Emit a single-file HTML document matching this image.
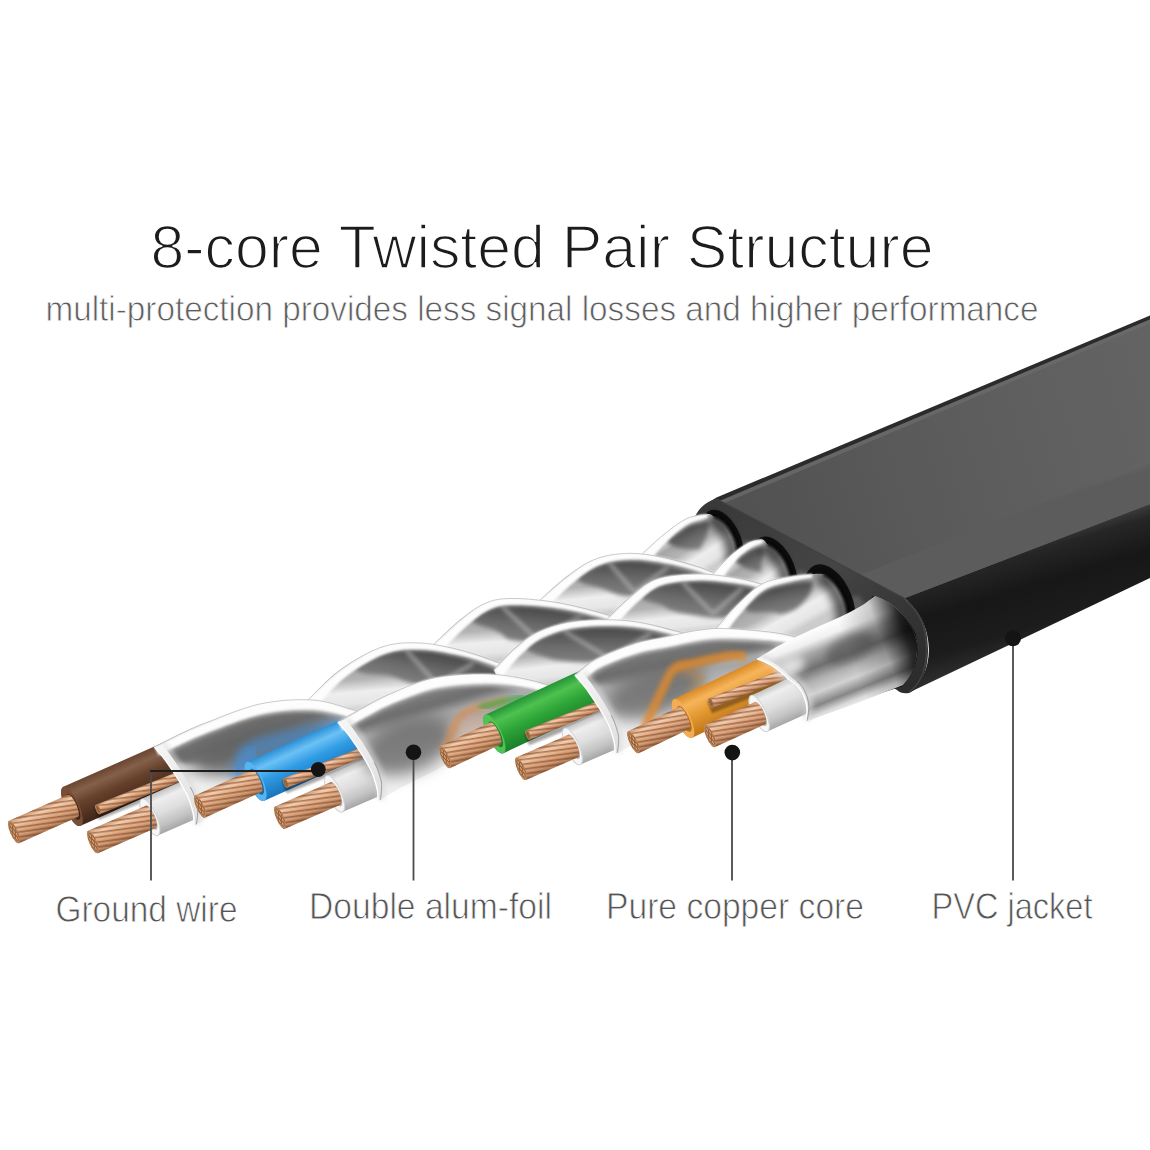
<!DOCTYPE html>
<html lang="en"><head><meta charset="utf-8"><title>8-core Twisted Pair Structure</title>
<style>html,body{margin:0;padding:0;background:#fff}body{width:1150px;height:1150px;overflow:hidden}svg{display:block}text{font-family:"Liberation Sans",sans-serif}</style></head>
<body>
<svg width="1150" height="1150" viewBox="0 0 1150 1150">
<defs>
<linearGradient id="gCu" x1="0" y1="0" x2="0" y2="1"><stop offset="0" stop-color="#c48a62"/><stop offset="0.2" stop-color="#f0c8a8"/><stop offset="0.45" stop-color="#dfa67e"/><stop offset="0.75" stop-color="#c58b63"/><stop offset="1" stop-color="#9a6642"/></linearGradient>
<linearGradient id="gBrown" x1="0" y1="0" x2="0" y2="1"><stop offset="0" stop-color="#6a4531"/><stop offset="0.22" stop-color="#84604a"/><stop offset="0.5" stop-color="#66402b"/><stop offset="1" stop-color="#40261a"/></linearGradient>
<linearGradient id="gBlue" x1="0" y1="0" x2="0" y2="1"><stop offset="0" stop-color="#2a8fd6"/><stop offset="0.25" stop-color="#6cc1f5"/><stop offset="0.55" stop-color="#2f9ce4"/><stop offset="1" stop-color="#1a74ba"/></linearGradient>
<linearGradient id="gGreen" x1="0" y1="0" x2="0" y2="1"><stop offset="0" stop-color="#249436"/><stop offset="0.25" stop-color="#4ec250"/><stop offset="0.55" stop-color="#2ea638"/><stop offset="1" stop-color="#1a7f2a"/></linearGradient>
<linearGradient id="gOrange" x1="0" y1="0" x2="0" y2="1"><stop offset="0" stop-color="#d98a24"/><stop offset="0.25" stop-color="#f6b55c"/><stop offset="0.55" stop-color="#e59a32"/><stop offset="1" stop-color="#bf7618"/></linearGradient>
<linearGradient id="gWhite" x1="0" y1="0" x2="0" y2="1"><stop offset="0" stop-color="#c4c4c4"/><stop offset="0.18" stop-color="#eeeeee"/><stop offset="0.5" stop-color="#dedede"/><stop offset="0.8" stop-color="#c2c2c2"/><stop offset="1" stop-color="#a6a6a6"/></linearGradient>
<pattern id="strand" width="9" height="4.8" patternUnits="userSpaceOnUse" patternTransform="rotate(16)"><rect width="9" height="1.5" fill="#80492a" fill-opacity=".6"/><rect y="2.1" width="9" height="1.2" fill="#fff0e0" fill-opacity=".25"/></pattern>
<filter id="b1" x="-20%" y="-20%" width="140%" height="140%"><feGaussianBlur stdDeviation="1"/></filter>
<filter id="b2" x="-20%" y="-20%" width="140%" height="140%"><feGaussianBlur stdDeviation="2.2"/></filter>
<filter id="b4" x="-30%" y="-30%" width="160%" height="160%"><feGaussianBlur stdDeviation="4.5"/></filter>
<filter id="b8" x="-40%" y="-40%" width="180%" height="180%"><feGaussianBlur stdDeviation="8"/></filter>
<linearGradient id="gSide" gradientUnits="userSpaceOnUse" x1="1000" y1="543" x2="1032" y2="650"><stop offset="0" stop-color="#555555"/><stop offset="0.07" stop-color="#383838"/><stop offset="0.16" stop-color="#262626"/><stop offset="0.45" stop-color="#171717"/><stop offset="0.8" stop-color="#1c1c1c"/><stop offset="1" stop-color="#2c2c2c"/></linearGradient>
<linearGradient id="gTop" gradientUnits="userSpaceOnUse" x1="760" y1="520" x2="1150" y2="400"><stop offset="0" stop-color="#525252"/><stop offset="0.5" stop-color="#5c5c5c"/><stop offset="1" stop-color="#636363"/></linearGradient>
<linearGradient id="gTop2" gradientUnits="userSpaceOnUse" x1="1000" y1="462" x2="1016" y2="512"><stop offset="0" stop-color="#6a6a6a" stop-opacity="0"/><stop offset="0.75" stop-color="#6a6a6a" stop-opacity="0.8"/><stop offset="1" stop-color="#5c5c5c" stop-opacity="1"/></linearGradient>
<linearGradient id="gEnd" gradientUnits="userSpaceOnUse" x1="700" y1="500" x2="920" y2="690"><stop offset="0" stop-color="#383838"/><stop offset="0.5" stop-color="#454545"/><stop offset="1" stop-color="#2a2a2a"/></linearGradient>
<linearGradient id="gl1" gradientUnits="userSpaceOnUse" x1="686" y1="519" x2="715.2" y2="565.6"><stop offset="0" stop-color="#ffffff"/><stop offset="0.12" stop-color="#e0e0e0"/><stop offset="0.3" stop-color="#a6a6a6"/><stop offset="0.5" stop-color="#b4b4b4"/><stop offset="0.7" stop-color="#eeeeee"/><stop offset="0.88" stop-color="#e6e6e6"/><stop offset="1" stop-color="#cccccc"/></linearGradient>
<linearGradient id="gl1p" gradientUnits="userSpaceOnUse" x1="689" y1="525.3" x2="700.3" y2="548.7"><stop offset="0" stop-color="#464646"/><stop offset="0.55" stop-color="#6c6c6c"/><stop offset="1" stop-color="#808080"/></linearGradient>
<linearGradient id="gl2" gradientUnits="userSpaceOnUse" x1="618" y1="554" x2="624.1" y2="611.7"><stop offset="0" stop-color="#ffffff"/><stop offset="0.12" stop-color="#e0e0e0"/><stop offset="0.3" stop-color="#a6a6a6"/><stop offset="0.5" stop-color="#b4b4b4"/><stop offset="0.7" stop-color="#eeeeee"/><stop offset="0.88" stop-color="#e6e6e6"/><stop offset="1" stop-color="#cccccc"/></linearGradient>
<linearGradient id="gl2p" gradientUnits="userSpaceOnUse" x1="632.6" y1="560.4" x2="631.8" y2="596.4"><stop offset="0" stop-color="#464646"/><stop offset="0.55" stop-color="#6c6c6c"/><stop offset="1" stop-color="#808080"/></linearGradient>
<linearGradient id="gl3" gradientUnits="userSpaceOnUse" x1="513" y1="598.5" x2="517.4" y2="658.3"><stop offset="0" stop-color="#ffffff"/><stop offset="0.12" stop-color="#e0e0e0"/><stop offset="0.3" stop-color="#a6a6a6"/><stop offset="0.5" stop-color="#b4b4b4"/><stop offset="0.7" stop-color="#eeeeee"/><stop offset="0.88" stop-color="#e6e6e6"/><stop offset="1" stop-color="#cccccc"/></linearGradient>
<linearGradient id="gl3p" gradientUnits="userSpaceOnUse" x1="534.3" y1="606.6" x2="530.9" y2="642.5"><stop offset="0" stop-color="#464646"/><stop offset="0.55" stop-color="#6c6c6c"/><stop offset="1" stop-color="#808080"/></linearGradient>
<linearGradient id="gl4" gradientUnits="userSpaceOnUse" x1="420" y1="643" x2="425.3" y2="704.8"><stop offset="0" stop-color="#ffffff"/><stop offset="0.12" stop-color="#e0e0e0"/><stop offset="0.3" stop-color="#a6a6a6"/><stop offset="0.5" stop-color="#b4b4b4"/><stop offset="0.7" stop-color="#eeeeee"/><stop offset="0.88" stop-color="#e6e6e6"/><stop offset="1" stop-color="#cccccc"/></linearGradient>
<linearGradient id="gl4p" gradientUnits="userSpaceOnUse" x1="438.8" y1="652.4" x2="432" y2="687.7"><stop offset="0" stop-color="#464646"/><stop offset="0.55" stop-color="#6c6c6c"/><stop offset="1" stop-color="#808080"/></linearGradient>
<linearGradient id="gl5" gradientUnits="userSpaceOnUse" x1="260" y1="704" x2="266.7" y2="778.7"><stop offset="0" stop-color="#ffffff"/><stop offset="0.1" stop-color="#ececec"/><stop offset="0.25" stop-color="#b2b2b2"/><stop offset="0.5" stop-color="#a6a6a6"/><stop offset="0.75" stop-color="#c8c8c8"/><stop offset="0.92" stop-color="#e8e8e8"/><stop offset="1" stop-color="#f0f0f0"/></linearGradient>
<linearGradient id="gl5p" gradientUnits="userSpaceOnUse" x1="250" y1="719.1" x2="259.7" y2="749.6"><stop offset="0" stop-color="#707070"/><stop offset="0.55" stop-color="#6c6c6c"/><stop offset="1" stop-color="#9c9c9c"/></linearGradient>
<linearGradient id="gb1" gradientUnits="userSpaceOnUse" x1="154.5" y1="747" x2="194" y2="825.5"><stop offset="0" stop-color="#f6f6f6"/><stop offset="0.5" stop-color="#e9e9e9"/><stop offset="1" stop-color="#dedede"/></linearGradient>
<linearGradient id="gl6" gradientUnits="userSpaceOnUse" x1="748.7" y1="542.6" x2="780.5" y2="587.4"><stop offset="0" stop-color="#ffffff"/><stop offset="0.12" stop-color="#e0e0e0"/><stop offset="0.3" stop-color="#a6a6a6"/><stop offset="0.5" stop-color="#b4b4b4"/><stop offset="0.7" stop-color="#eeeeee"/><stop offset="0.88" stop-color="#e6e6e6"/><stop offset="1" stop-color="#cccccc"/></linearGradient>
<linearGradient id="gl6p" gradientUnits="userSpaceOnUse" x1="751.9" y1="548.9" x2="763.6" y2="572.1"><stop offset="0" stop-color="#464646"/><stop offset="0.55" stop-color="#6c6c6c"/><stop offset="1" stop-color="#808080"/></linearGradient>
<linearGradient id="gl7" gradientUnits="userSpaceOnUse" x1="696" y1="574" x2="702.5" y2="631.6"><stop offset="0" stop-color="#ffffff"/><stop offset="0.12" stop-color="#e0e0e0"/><stop offset="0.3" stop-color="#a6a6a6"/><stop offset="0.5" stop-color="#b4b4b4"/><stop offset="0.7" stop-color="#eeeeee"/><stop offset="0.88" stop-color="#e6e6e6"/><stop offset="1" stop-color="#cccccc"/></linearGradient>
<linearGradient id="gl7p" gradientUnits="userSpaceOnUse" x1="712.7" y1="581.7" x2="709" y2="617.5"><stop offset="0" stop-color="#464646"/><stop offset="0.55" stop-color="#6c6c6c"/><stop offset="1" stop-color="#808080"/></linearGradient>
<linearGradient id="gl8" gradientUnits="userSpaceOnUse" x1="578" y1="621" x2="584.6" y2="680.6"><stop offset="0" stop-color="#ffffff"/><stop offset="0.12" stop-color="#e0e0e0"/><stop offset="0.3" stop-color="#a6a6a6"/><stop offset="0.5" stop-color="#b4b4b4"/><stop offset="0.7" stop-color="#eeeeee"/><stop offset="0.88" stop-color="#e6e6e6"/><stop offset="1" stop-color="#cccccc"/></linearGradient>
<linearGradient id="gl8p" gradientUnits="userSpaceOnUse" x1="603.3" y1="626.7" x2="603.3" y2="662.7"><stop offset="0" stop-color="#464646"/><stop offset="0.55" stop-color="#6c6c6c"/><stop offset="1" stop-color="#808080"/></linearGradient>
<linearGradient id="gl9" gradientUnits="userSpaceOnUse" x1="434" y1="678" x2="444" y2="755.4"><stop offset="0" stop-color="#ffffff"/><stop offset="0.1" stop-color="#ececec"/><stop offset="0.25" stop-color="#b2b2b2"/><stop offset="0.5" stop-color="#a6a6a6"/><stop offset="0.75" stop-color="#c8c8c8"/><stop offset="0.92" stop-color="#e8e8e8"/><stop offset="1" stop-color="#f0f0f0"/></linearGradient>
<linearGradient id="gl9p" gradientUnits="userSpaceOnUse" x1="429.4" y1="691.5" x2="436.5" y2="716.5"><stop offset="0" stop-color="#808080"/><stop offset="0.55" stop-color="#6c6c6c"/><stop offset="1" stop-color="#acacac"/></linearGradient>
<linearGradient id="gb2" gradientUnits="userSpaceOnUse" x1="338" y1="722" x2="378" y2="801"><stop offset="0" stop-color="#f6f6f6"/><stop offset="0.5" stop-color="#e9e9e9"/><stop offset="1" stop-color="#dedede"/></linearGradient>
<linearGradient id="gl10" gradientUnits="userSpaceOnUse" x1="762" y1="584" x2="790.4" y2="634.6"><stop offset="0" stop-color="#ffffff"/><stop offset="0.12" stop-color="#e0e0e0"/><stop offset="0.3" stop-color="#a6a6a6"/><stop offset="0.5" stop-color="#b4b4b4"/><stop offset="0.7" stop-color="#eeeeee"/><stop offset="0.88" stop-color="#e6e6e6"/><stop offset="1" stop-color="#cccccc"/></linearGradient>
<linearGradient id="gl10p" gradientUnits="userSpaceOnUse" x1="777.7" y1="586" x2="783.8" y2="613.3"><stop offset="0" stop-color="#464646"/><stop offset="0.55" stop-color="#6c6c6c"/><stop offset="1" stop-color="#808080"/></linearGradient>
<linearGradient id="gl11" gradientUnits="userSpaceOnUse" x1="700" y1="630" x2="709.7" y2="709.4"><stop offset="0" stop-color="#ffffff"/><stop offset="0.1" stop-color="#ececec"/><stop offset="0.25" stop-color="#b2b2b2"/><stop offset="0.5" stop-color="#a6a6a6"/><stop offset="0.75" stop-color="#c8c8c8"/><stop offset="0.92" stop-color="#e8e8e8"/><stop offset="1" stop-color="#f0f0f0"/></linearGradient>
<linearGradient id="gl11p" gradientUnits="userSpaceOnUse" x1="667.4" y1="648.8" x2="673.1" y2="676.2"><stop offset="0" stop-color="#787878"/><stop offset="0.55" stop-color="#6c6c6c"/><stop offset="1" stop-color="#a8a8a8"/></linearGradient>
<linearGradient id="gb3" gradientUnits="userSpaceOnUse" x1="575" y1="675" x2="615" y2="754"><stop offset="0" stop-color="#f6f6f6"/><stop offset="0.5" stop-color="#e9e9e9"/><stop offset="1" stop-color="#dedede"/></linearGradient>
<linearGradient id="gP4" gradientUnits="userSpaceOnUse" x1="806" y1="632" x2="838" y2="712"><stop offset="0" stop-color="#ffffff"/><stop offset="0.13" stop-color="#f0f0f0"/><stop offset="0.25" stop-color="#a8a8a8"/><stop offset="0.42" stop-color="#707070"/><stop offset="0.56" stop-color="#b0b0b0"/><stop offset="0.7" stop-color="#d2d2d2"/><stop offset="0.84" stop-color="#868686"/><stop offset="0.94" stop-color="#d8d8d8"/><stop offset="1" stop-color="#eeeeee"/></linearGradient>
<linearGradient id="gP4s" gradientUnits="userSpaceOnUse" x1="850" y1="655" x2="915" y2="632"><stop offset="0" stop-color="#000" stop-opacity="0"/><stop offset="0.5" stop-color="#000" stop-opacity="0.2"/><stop offset="0.85" stop-color="#000" stop-opacity="0.8"/><stop offset="1" stop-color="#000" stop-opacity="0.9"/></linearGradient>
<linearGradient id="gb4" gradientUnits="userSpaceOnUse" x1="757" y1="658.8" x2="806" y2="721.4"><stop offset="0" stop-color="#f6f6f6"/><stop offset="0.5" stop-color="#e9e9e9"/><stop offset="1" stop-color="#dedede"/></linearGradient>
</defs>
<rect width="1150" height="1150" fill="#fff"/>
<path d="M904,598 L1150,503 L1150,578 L908,693 C935,676 938,625 904,598 Z" fill="url(#gSide)"/><path d="M716.5,499 L1150,317 L1150,504 L904.4,598.3 Z" fill="url(#gTop)"/><path d="M860,575 L1150,460 L1150,504 L904.4,598.3 Z" fill="url(#gTop2)"/><path d="M710,501.5 L716.5,497.5 L1150,315.5 L1150,319.5 L719.5,501 Z" fill="#2b2b2b"/><path d="M719.5,501 L1150,319.5 L1150,323.5 L724,503.2 Z" fill="#6a6a6a" fill-opacity=".8"/><path d="M716.5,499 L904.4,598.3 C920,611 928,625 928,650 C928,672 920,688 909.6,692.7 C905,694 900,693 897,690 L700,575 C690,555 690,522 697,512.9 C702,505 710,500 716.5,499 Z" fill="url(#gEnd)"/><path d="M716.5,499 L904.4,598.3" stroke="#404040" stroke-width="1.4" fill="none"/><path d="M906,601 C920,612 926.5,627 926.5,650 C926.5,670 919,686 909,691.5" fill="none" stroke="#4c4c4c" stroke-width="1.4" stroke-opacity=".7"/><ellipse cx="748" cy="552" rx="7" ry="12" transform="rotate(-20 748 552)" fill="#666" fill-opacity=".7" filter="url(#b2)"/><ellipse cx="803" cy="582" rx="7" ry="12" transform="rotate(-20 803 582)" fill="#666" fill-opacity=".7" filter="url(#b2)"/><ellipse cx="858" cy="607" rx="7" ry="12" transform="rotate(-20 858 607)" fill="#666" fill-opacity=".7" filter="url(#b2)"/><circle r="1" transform="matrix(22,12,0,31,722,543)" fill="#0d0d0d"/><circle r="1" transform="matrix(24,13,0,33,774,572)" fill="#0d0d0d"/><circle r="1" transform="matrix(26,14,0,35.5,829.5,602.5)" fill="#0d0d0d"/><path d="M873,595.7 C889,600 905,613 914.8,632 C920,648 919,668 903,686 L860,700 L840,640 Z" fill="#0d0d0d"/>
<path d="M640,556 C643.7,552.7 654.3,542.2 662,536 C669.7,529.8 678.5,522.7 686,519 C693.5,515.3 702.3,514.4 707,514 C711.7,513.6 712.2,515.9 714.1,516.6 C716,517.2 716.8,517.3 718.2,517.9 C719.5,518.6 720.9,519.5 722.3,520.5 C723.6,521.6 725,522.9 726.2,524.3 C727.5,525.7 728.7,527.4 729.9,529.1 C731,530.8 732,532.7 732.9,534.6 C733.9,536.5 734.7,538.6 735.4,540.6 C736.1,542.6 736.6,544.8 737,546.8 C737.5,548.9 737.7,551 737.8,553 C738,554.9 737.9,556.9 737.8,558.7 C737.6,560.5 736.9,563 736.8,563.8 L760,600 L660,620 Z" fill="url(#gl1)"/><path d="M666.4,541.4 L668.3,539.9 L670.3,538.3 L672.3,536.8 L674.3,535.2 L676.2,533.7 L678.2,532.2 L680.2,530.8 L682.1,529.5 L683.9,528.2 L685.7,527.1 L687.5,526.1 L689,525.3 L690.5,524.6 L692.2,524 L693.9,523.5 L695.6,523.1 L697.4,522.7 L699.2,522.3 L701,522 L702.7,521.8 L704.3,521.5 L705.8,521.3 L707.2,521.1 L708.4,520.9 L708.4,520.9 L708.6,528.6 L707.6,532.7 L706.4,536 L705.2,538.7 L704,541.1 L703,543.1 L702,544.8 L701.2,546.3 L700.6,547.4 L700.3,548.2 L700.3,548.6 L700.3,548.7 L699.9,548.8 L698.8,549 L697.3,549.1 L695.4,549.2 L693.2,549.3 L690.7,549.2 L687.9,549.1 L684.8,548.8 L681.3,548.2 L677.5,547.4 L673.1,545.9 L666.4,541.4 Z" fill="url(#gl1p)" fill-opacity="1" filter="url(#b2)"/><path d="M709.1,518.6 C709.8,518.8 711.8,519.3 713.2,519.9 C714.5,520.6 715.9,521.5 717.3,522.5 C718.6,523.6 720,524.9 721.2,526.3 C722.5,527.7 723.7,529.4 724.9,531.1 C726,532.8 727,534.7 727.9,536.6 C728.9,538.5 729.7,540.6 730.4,542.6 C731.1,544.6 731.6,546.8 732,548.8 C732.5,550.9 732.7,553 732.8,555 C733,556.9 732.9,558.9 732.8,560.7 C732.6,562.5 731.9,565 731.8,565.8" fill="none" stroke="#000" stroke-opacity=".6" stroke-width="13" filter="url(#b4)"/><path d="M714.1,516.6 C714.8,516.8 716.8,517.3 718.2,517.9 C719.5,518.6 720.9,519.5 722.3,520.5 C723.6,521.6 725,522.9 726.2,524.3 C727.5,525.7 728.7,527.4 729.9,529.1 C731,530.8 732,532.7 732.9,534.6 C733.9,536.5 734.7,538.6 735.4,540.6 C736.1,542.6 736.6,544.8 737,546.8 C737.5,548.9 737.7,551 737.8,553 C738,554.9 737.9,556.9 737.8,558.7 C737.6,560.5 736.9,563 736.8,563.8" fill="none" stroke="#0d0d0d" stroke-width="3" filter="url(#b1)"/><path d="M640,556 L641.1,555 L642.4,553.8 L643.9,552.3 L645.6,550.7 L647.5,548.9 L649.5,547.1 L651.6,545.1 L653.7,543.2 L655.8,541.3 L658,539.4 L660,537.6 L662,536 L663.9,534.4 L665.9,532.9 L667.9,531.3 L670,529.7 L672,528.1 L674.1,526.6 L676.1,525.1 L678.1,523.7 L680.2,522.3 L682.2,521.1 L684.1,520 L686,519 L687.9,518.1 L689.9,517.4 L692,516.8 L694,516.3 L696,515.8 L698,515.4 L699.9,515.1 L701.7,514.9 L703.3,514.6 L704.8,514.4 L706,514.2 L707,514 L707.7,517.2 L706.6,517.6 L705.3,517.9 L703.8,518.3 L702.2,518.7 L700.5,519.1 L698.7,519.5 L696.9,520 L695,520.5 L693.2,521.1 L691.4,521.8 L689.7,522.6 L688.1,523.4 L686.5,524.4 L684.8,525.6 L683,526.8 L681.2,528.2 L679.4,529.7 L677.5,531.2 L675.6,532.8 L673.7,534.5 L671.9,536.2 L670.1,538.1 L668.3,539.9 L666.6,541.6 L664.9,543.4 L663.1,545.3 L661.3,547.3 L659.4,549.4 L657.5,551.5 L655.7,553.7 L653.9,555.7 L652.2,557.7 L650.7,559.5 L649.4,561.2 L648.2,562.7 L647.3,563.9 Z" fill="#fdfdfd" filter="url(#b1)"/><path d="M640,556 L641.1,555 L642.4,553.8 L643.9,552.3 L645.6,550.7 L647.5,548.9 L649.5,547.1 L651.6,545.1 L653.7,543.2 L655.8,541.3 L658,539.4 L660,537.6 L662,536 L663.9,534.4 L665.9,532.9 L667.9,531.3 L670,529.7 L672,528.1 L674.1,526.6 L676.1,525.1 L678.1,523.7 L680.2,522.3 L682.2,521.1 L684.1,520 L686,519 L687.9,518.1 L689.9,517.4 L692,516.8 L694,516.3 L696,515.8 L698,515.4 L699.9,515.1 L701.7,514.9 L703.3,514.6 L704.8,514.4 L706,514.2 L707,514" fill="none" stroke="#a6a6a6" stroke-width="0.8" stroke-opacity=".75"/><path d="M540,600 C544.2,596.3 556.5,584.5 565,578 C573.5,571.5 582.2,565 591,561 C599.8,557 608.2,555 618,554 C627.8,553 637,553 650,555 C663,557 682.7,561.8 696,566 C709.3,570.2 724.3,577.7 730,580 L742.5,630 L562.5,650 Z" fill="url(#gl2)"/><path d="M575.6,578.8 L577.7,577.3 L579.7,575.8 L581.8,574.4 L583.9,573 L585.9,571.7 L587.9,570.5 L589.9,569.4 L591.9,568.3 L593.9,567.4 L595.9,566.5 L597.9,565.7 L599.9,565 L601.9,564.3 L603.9,563.7 L605.9,563.2 L607.9,562.7 L609.9,562.2 L612,561.9 L614.2,561.5 L616.4,561.2 L618.7,561 L621,560.7 L623.3,560.6 L625.6,560.4 L627.9,560.4 L630.3,560.3 L632.6,560.4 L635.1,560.5 L637.6,560.6 L640.2,560.8 L643,561.1 L645.9,561.5 L648.9,561.9 L652.2,562.5 L655.7,563.1 L659.4,563.8 L663.2,564.7 L667.2,565.5 L671.2,566.5 L675.3,567.5 L679.3,568.5 L683.2,569.6 L686.9,570.6 L690.5,571.7 L693.9,572.7 L697.1,573.7 L700.3,574.9 L703.6,576.1 L706.8,577.4 L710,578.8 L713.1,580.1 L716,581.4 L718.7,582.6 L721.3,583.8 L721.3,583.8 L716.1,588.6 L712,590.4 L708,591.6 L704.1,592.5 L700.4,593.2 L696.7,593.7 L693.1,594.3 L689.9,594.8 L686.7,595.3 L683.4,595.7 L679.7,596 L675.9,596.2 L672,596.3 L668,596.3 L664,596.3 L660.1,596.3 L656.3,596.2 L652.7,596.2 L649.4,596.1 L646.3,596.1 L643.6,596.2 L641.2,596.2 L639,596.3 L636.9,596.3 L635.1,596.4 L633.4,596.4 L631.8,596.4 L630.2,596.3 L628.7,596.2 L627.2,596.1 L625.6,595.9 L624,595.7 L622.3,595.5 L620.6,595.2 L619,594.8 L617.6,594.4 L616.2,594 L614.8,593.4 L613.4,592.9 L612,592.3 L610.6,591.7 L609,591 L607.4,590.3 L605.6,589.7 L603.8,589 L601.9,588.2 L599.8,587.5 L597.4,586.8 L594.8,586.2 L592,585.5 L588.9,584.8 L585.4,583.9 L581.5,582.6 L575.6,578.8 Z" fill="url(#gl2p)" fill-opacity="1" filter="url(#b2)"/><path d="M610.3,564.2 L633.6,591" stroke="#c9c9c9" stroke-opacity=".55" stroke-width="4" stroke-linecap="round" filter="url(#b2)"/><path d="M635.4,591.1 L666.5,568.5" stroke="#c9c9c9" stroke-opacity=".55" stroke-width="4" stroke-linecap="round" filter="url(#b2)"/><path d="M540,600 L541.2,598.9 L542.7,597.5 L544.5,595.9 L546.4,594.1 L548.6,592.1 L550.9,590.1 L553.2,587.9 L555.7,585.8 L558.1,583.7 L560.5,581.6 L562.8,579.7 L565,578 L567.1,576.4 L569.3,574.8 L571.4,573.2 L573.6,571.6 L575.7,570.1 L577.9,568.6 L580,567.1 L582.2,565.7 L584.4,564.4 L586.6,563.2 L588.8,562.1 L591,561 L593.2,560 L595.4,559.2 L597.6,558.4 L599.7,557.6 L601.9,557 L604.1,556.4 L606.3,555.8 L608.6,555.4 L610.9,555 L613.2,554.6 L615.6,554.3 L618,554 L620.4,553.8 L622.9,553.6 L625.3,553.5 L627.8,553.4 L630.3,553.3 L632.8,553.4 L635.4,553.5 L638.1,553.6 L640.9,553.9 L643.8,554.2 L646.8,554.5 L650,555 L653.4,555.6 L657,556.2 L660.8,557 L664.7,557.8 L668.8,558.7 L672.9,559.7 L677,560.7 L681,561.7 L685,562.8 L688.9,563.9 L692.5,564.9 L696,566 L699.4,567.1 L702.8,568.3 L706.1,569.6 L709.5,571 L712.7,572.3 L715.9,573.7 L718.9,575 L721.6,576.3 L724.2,577.4 L726.4,578.4 L728.4,579.3 L730,580 L728.7,583 L727,582.4 L725,581.6 L722.7,580.6 L720.2,579.5 L717.4,578.3 L714.4,577.1 L711.3,575.8 L708,574.5 L704.7,573.3 L701.4,572.1 L698,570.9 L694.8,569.9 L691.3,569 L687.7,568 L683.9,567 L679.9,566 L675.9,565 L671.8,564.1 L667.8,563.2 L663.7,562.4 L659.8,561.6 L656.1,560.9 L652.5,560.4 L649.2,559.9 L646.2,559.5 L643.2,559.2 L640.4,559 L637.7,558.8 L635.2,558.7 L632.7,558.7 L630.3,558.8 L627.9,558.9 L625.6,559 L623.2,559.2 L620.9,559.4 L618.6,559.7 L616.3,560.1 L614,560.4 L611.9,560.8 L609.8,561.3 L607.7,561.9 L605.7,562.5 L603.7,563.2 L601.8,564 L599.8,564.8 L597.9,565.6 L595.9,566.6 L594,567.6 L592.1,568.7 L590.2,569.8 L588.3,571.1 L586.3,572.4 L584.4,573.8 L582.4,575.3 L580.5,576.8 L578.5,578.4 L576.5,580.1 L574.5,581.7 L572.5,583.4 L570.5,585.1 L568.6,586.9 L566.5,588.8 L564.3,590.8 L562,593 L559.8,595.2 L557.5,597.4 L555.4,599.6 L553.4,601.6 L551.5,603.6 L549.8,605.3 L548.4,606.8 L547.2,608 Z" fill="#fdfdfd" filter="url(#b1)"/><path d="M540,600 L541.2,598.9 L542.7,597.5 L544.5,595.9 L546.4,594.1 L548.6,592.1 L550.9,590.1 L553.2,587.9 L555.7,585.8 L558.1,583.7 L560.5,581.6 L562.8,579.7 L565,578 L567.1,576.4 L569.3,574.8 L571.4,573.2 L573.6,571.6 L575.7,570.1 L577.9,568.6 L580,567.1 L582.2,565.7 L584.4,564.4 L586.6,563.2 L588.8,562.1 L591,561 L593.2,560 L595.4,559.2 L597.6,558.4 L599.7,557.6 L601.9,557 L604.1,556.4 L606.3,555.8 L608.6,555.4 L610.9,555 L613.2,554.6 L615.6,554.3 L618,554 L620.4,553.8 L622.9,553.6 L625.3,553.5 L627.8,553.4 L630.3,553.3 L632.8,553.4 L635.4,553.5 L638.1,553.6 L640.9,553.9 L643.8,554.2 L646.8,554.5 L650,555 L653.4,555.6 L657,556.2 L660.8,557 L664.7,557.8 L668.8,558.7 L672.9,559.7 L677,560.7 L681,561.7 L685,562.8 L688.9,563.9 L692.5,564.9 L696,566 L699.4,567.1 L702.8,568.3 L706.1,569.6 L709.5,571 L712.7,572.3 L715.9,573.7 L718.9,575 L721.6,576.3 L724.2,577.4 L726.4,578.4 L728.4,579.3 L730,580" fill="none" stroke="#a6a6a6" stroke-width="0.8" stroke-opacity=".75"/><path d="M432,646 C436.7,641.7 451,627.2 460,620 C469,612.8 477.2,606.6 486,603 C494.8,599.4 500.7,598.5 513,598.5 C525.3,598.5 543.5,600.1 560,603 C576.5,605.9 597,611.5 612,616 C627,620.5 643.7,627.7 650,630 L662.5,680 L454.5,696 Z" fill="url(#gl3)"/><path d="M470.9,620.4 L472.9,618.8 L475,617.4 L477,615.9 L479,614.6 L480.9,613.4 L482.9,612.3 L484.8,611.2 L486.7,610.3 L488.7,609.5 L490.6,608.7 L492.5,608.1 L494.2,607.5 L495.9,607 L497.6,606.6 L499.3,606.3 L501.1,606.1 L503.1,605.8 L505.2,605.7 L507.6,605.6 L510.2,605.5 L513,605.5 L516.1,605.5 L519.4,605.6 L522.9,605.8 L526.5,606 L530.4,606.3 L534.3,606.6 L538.3,607 L542.4,607.5 L546.5,608 L550.6,608.6 L554.7,609.2 L558.8,609.9 L562.9,610.7 L567.1,611.5 L571.4,612.5 L575.9,613.5 L580.3,614.6 L584.8,615.7 L589.3,616.8 L593.7,618 L598,619.2 L602.2,620.4 L606.2,621.6 L610,622.7 L613.6,623.8 L617.3,625.1 L621,626.4 L624.7,627.7 L628.3,629 L631.7,630.3 L635,631.6 L638.1,632.8 L640.9,634 L640.9,634 L635.7,638.9 L631.4,640.8 L627.2,642.1 L623,643 L618.8,643.6 L614.7,644.2 L610.7,644.6 L606.8,645 L603.1,645.4 L599.1,645.7 L594.9,645.8 L590.5,645.8 L586.1,645.7 L581.7,645.6 L577.2,645.4 L572.8,645.2 L568.5,644.9 L564.2,644.7 L560.2,644.4 L556.3,644.2 L552.7,644 L549.2,643.8 L545.5,643.6 L541.8,643.4 L538.1,643.1 L534.5,642.8 L530.9,642.5 L527.5,642.1 L524.1,641.8 L521,641.4 L518,641 L515.4,640.6 L512.9,640.2 L510.7,639.7 L508.7,639.2 L507.2,638.7 L506,638 L505.1,637.3 L504.3,636.6 L503.7,635.8 L503,634.9 L502.1,634 L500.9,633.1 L499.4,632.3 L497.7,631.4 L496,630.5 L494.2,629.6 L492.1,628.8 L489.7,628 L487.1,627.2 L484.1,626.4 L480.7,625.4 L476.8,624.1 L470.9,620.4 Z" fill="url(#gl3p)" fill-opacity="1" filter="url(#b2)"/><path d="M503.3,607.8 L535.1,637.5" stroke="#c9c9c9" stroke-opacity=".55" stroke-width="4" stroke-linecap="round" filter="url(#b2)"/><path d="M538.8,637.9 L579.6,617.5" stroke="#c9c9c9" stroke-opacity=".55" stroke-width="4" stroke-linecap="round" filter="url(#b2)"/><path d="M432,646 L433.4,644.7 L435.1,643.1 L437.1,641.1 L439.3,638.9 L441.8,636.6 L444.4,634.1 L447.1,631.5 L449.8,629 L452.5,626.5 L455.1,624.1 L457.6,621.9 L460,620 L462.2,618.2 L464.4,616.5 L466.6,614.8 L468.8,613.2 L470.9,611.6 L473.1,610.2 L475.2,608.7 L477.3,607.4 L479.5,606.2 L481.6,605 L483.8,604 L486,603 L488.2,602.2 L490.2,601.4 L492.2,600.8 L494.2,600.2 L496.2,599.8 L498.2,599.4 L500.3,599.1 L502.5,598.9 L504.8,598.7 L507.3,598.6 L510,598.5 L513,598.5 L516.2,598.5 L519.6,598.6 L523.2,598.8 L527,599 L530.9,599.3 L534.9,599.7 L539,600.1 L543.2,600.5 L547.4,601.1 L551.6,601.7 L555.8,602.3 L560,603 L564.2,603.8 L568.5,604.7 L573,605.6 L577.5,606.7 L582,607.8 L586.6,608.9 L591.1,610.1 L595.5,611.3 L599.9,612.5 L604.1,613.7 L608.1,614.9 L612,616 L615.8,617.2 L619.6,618.4 L623.4,619.8 L627.1,621.1 L630.7,622.5 L634.2,623.8 L637.6,625.1 L640.7,626.3 L643.5,627.5 L646,628.5 L648.2,629.3 L650,630 L648.8,633.1 L647,632.5 L644.8,631.7 L642.2,630.7 L639.3,629.7 L636.2,628.5 L632.9,627.3 L629.4,626 L625.8,624.7 L622.1,623.4 L618.3,622.2 L614.5,621 L610.8,619.9 L607,618.9 L602.9,617.8 L598.7,616.6 L594.4,615.5 L589.9,614.4 L585.4,613.3 L580.9,612.2 L576.4,611.2 L571.9,610.2 L567.6,609.4 L563.3,608.6 L559.1,607.9 L555,607.2 L550.9,606.7 L546.8,606.2 L542.6,605.7 L538.5,605.3 L534.4,605 L530.5,604.7 L526.6,604.5 L522.9,604.3 L519.4,604.2 L516.1,604.2 L513,604.3 L510.1,604.3 L507.5,604.5 L505.2,604.6 L503,604.9 L501.1,605.3 L499.2,605.7 L497.5,606.1 L495.8,606.7 L494.1,607.3 L492.4,608 L490.6,608.8 L488.8,609.7 L486.9,610.7 L485.1,611.7 L483.2,612.9 L481.4,614.1 L479.5,615.5 L477.6,616.9 L475.7,618.4 L473.8,620 L471.8,621.7 L469.8,623.4 L467.7,625.2 L465.7,627 L463.6,628.9 L461.3,631.1 L458.8,633.5 L456.3,636 L453.8,638.6 L451.2,641.2 L448.8,643.8 L446.4,646.3 L444.3,648.5 L442.4,650.6 L440.7,652.4 L439.4,653.8 Z" fill="#fdfdfd" filter="url(#b1)"/><path d="M432,646 L433.4,644.7 L435.1,643.1 L437.1,641.1 L439.3,638.9 L441.8,636.6 L444.4,634.1 L447.1,631.5 L449.8,629 L452.5,626.5 L455.1,624.1 L457.6,621.9 L460,620 L462.2,618.2 L464.4,616.5 L466.6,614.8 L468.8,613.2 L470.9,611.6 L473.1,610.2 L475.2,608.7 L477.3,607.4 L479.5,606.2 L481.6,605 L483.8,604 L486,603 L488.2,602.2 L490.2,601.4 L492.2,600.8 L494.2,600.2 L496.2,599.8 L498.2,599.4 L500.3,599.1 L502.5,598.9 L504.8,598.7 L507.3,598.6 L510,598.5 L513,598.5 L516.2,598.5 L519.6,598.6 L523.2,598.8 L527,599 L530.9,599.3 L534.9,599.7 L539,600.1 L543.2,600.5 L547.4,601.1 L551.6,601.7 L555.8,602.3 L560,603 L564.2,603.8 L568.5,604.7 L573,605.6 L577.5,606.7 L582,607.8 L586.6,608.9 L591.1,610.1 L595.5,611.3 L599.9,612.5 L604.1,613.7 L608.1,614.9 L612,616 L615.8,617.2 L619.6,618.4 L623.4,619.8 L627.1,621.1 L630.7,622.5 L634.2,623.8 L637.6,625.1 L640.7,626.3 L643.5,627.5 L646,628.5 L648.2,629.3 L650,630" fill="none" stroke="#a6a6a6" stroke-width="0.8" stroke-opacity=".75"/><path d="M308,700 C313.3,695 327.7,678.8 340,670 C352.3,661.2 368.7,651.5 382,647 C395.3,642.5 407,642.5 420,643 C433,643.5 447.2,646.8 460,650 C472.8,653.2 483.7,657 497,662 C510.3,667 532.8,677 540,680 L552.5,730 L330.5,750 Z" fill="url(#gl4)"/><path d="M353.7,669.2 L357.1,667.1 L360.5,665 L364,663 L367.6,661.1 L371.1,659.3 L374.5,657.6 L377.9,656.1 L381.1,654.8 L384.2,653.6 L387.2,652.7 L390.2,651.9 L393.1,651.3 L396,650.8 L398.8,650.4 L401.7,650.1 L404.6,649.9 L407.5,649.8 L410.5,649.8 L413.5,649.8 L416.6,649.9 L419.7,650 L422.8,650.2 L425.9,650.4 L429,650.8 L432.2,651.3 L435.5,651.8 L438.8,652.4 L442,653 L445.3,653.7 L448.6,654.5 L451.9,655.2 L455.1,656 L458.3,656.8 L461.4,657.6 L464.4,658.4 L467.4,659.2 L470.3,660.1 L473.2,661 L476.1,662 L479,662.9 L482,664 L485,665 L488.1,666.2 L491.3,667.3 L494.5,668.5 L498,669.9 L501.7,671.4 L505.7,673 L509.8,674.7 L513.9,676.4 L518.1,678.2 L522.1,679.9 L525.9,681.5 L529.4,683.1 L529.4,683.1 L523.3,687.5 L518.2,689 L513.1,689.8 L508.1,690.2 L503.2,690.4 L498.5,690.5 L494,690.5 L489.9,690.6 L486.1,690.8 L482.5,690.9 L479,691 L475.7,691 L472.5,691.1 L469.4,691.1 L466.5,691.1 L463.6,691.1 L460.8,691 L458.1,690.9 L455.4,690.8 L452.7,690.7 L449.9,690.4 L446.8,690.1 L443.7,689.7 L440.6,689.2 L437.7,688.8 L434.8,688.3 L432,687.7 L429.4,687.2 L426.9,686.7 L424.5,686.2 L422.3,685.7 L420.3,685.2 L418.1,684.6 L415.6,684.1 L412.9,683.5 L410.5,682.8 L408.2,682.1 L406.2,681.4 L404.2,680.7 L402.3,679.9 L400.4,679.1 L398.4,678.4 L396.4,677.6 L394.2,676.8 L391.8,676.1 L389.1,675.5 L386,675.1 L382.5,674.7 L378.7,674.5 L374.6,674.3 L370.2,674 L365.5,673.5 L360.5,672.6 L353.7,669.2 Z" fill="url(#gl4p)" fill-opacity="1" filter="url(#b2)"/><path d="M407.5,651.8 L435.9,683" stroke="#c9c9c9" stroke-opacity=".55" stroke-width="4" stroke-linecap="round" filter="url(#b2)"/><path d="M438.8,683.6 L472.3,663.9" stroke="#c9c9c9" stroke-opacity=".55" stroke-width="4" stroke-linecap="round" filter="url(#b2)"/><path d="M308,700 L309.5,698.5 L311.4,696.7 L313.5,694.4 L315.9,692 L318.6,689.3 L321.4,686.4 L324.3,683.5 L327.4,680.6 L330.5,677.7 L333.7,674.9 L336.9,672.4 L340,670 L343.2,667.8 L346.5,665.5 L349.9,663.3 L353.4,661.1 L357,659 L360.6,656.9 L364.3,654.9 L367.9,653 L371.5,651.2 L375.1,649.7 L378.6,648.2 L382,647 L385.3,646 L388.5,645.1 L391.7,644.4 L394.9,643.9 L398,643.4 L401.1,643.1 L404.2,642.9 L407.3,642.8 L410.5,642.8 L413.6,642.8 L416.8,642.9 L420,643 L423.3,643.2 L426.6,643.5 L429.9,643.9 L433.3,644.3 L436.7,644.9 L440.1,645.5 L443.4,646.2 L446.8,646.9 L450.2,647.6 L453.5,648.4 L456.8,649.2 L460,650 L463.2,650.8 L466.3,651.6 L469.3,652.5 L472.3,653.4 L475.3,654.3 L478.3,655.3 L481.3,656.3 L484.3,657.4 L487.4,658.5 L490.5,659.6 L493.7,660.8 L497,662 L500.5,663.3 L504.3,664.9 L508.3,666.5 L512.5,668.2 L516.7,670 L520.8,671.8 L524.8,673.5 L528.6,675.1 L532.1,676.6 L535.3,678 L537.9,679.1 L540,680 L538.7,683 L536.6,682.2 L533.9,681.1 L530.7,679.8 L527.2,678.4 L523.4,676.8 L519.4,675.2 L515.2,673.5 L511,671.8 L506.8,670.1 L502.8,668.6 L499,667.1 L495.5,665.9 L492.3,664.7 L489.1,663.6 L485.9,662.5 L482.9,661.5 L479.9,660.5 L476.9,659.6 L473.9,658.7 L471,657.9 L468,657.1 L465,656.3 L461.9,655.5 L458.8,654.8 L455.6,654.1 L452.3,653.4 L449,652.7 L445.7,652 L442.4,651.3 L439.1,650.8 L435.8,650.2 L432.5,649.8 L429.2,649.4 L426,649.1 L422.9,648.9 L419.7,648.7 L416.6,648.7 L413.5,648.7 L410.5,648.7 L407.5,648.9 L404.5,649.1 L401.6,649.5 L398.8,649.9 L395.9,650.4 L393.1,651.1 L390.2,651.9 L387.3,652.8 L384.3,653.9 L381.3,655.1 L378.1,656.6 L374.8,658.2 L371.4,660 L368,661.9 L364.6,664 L361.2,666.1 L357.8,668.3 L354.5,670.5 L351.3,672.8 L348.2,675.1 L345.3,677.3 L342.6,679.6 L339.7,682.1 L336.9,684.8 L334,687.6 L331.1,690.5 L328.4,693.5 L325.7,696.3 L323.2,699.1 L320.9,701.7 L318.9,704 L317,706.1 L315.5,707.7 Z" fill="#fdfdfd" filter="url(#b1)"/><path d="M308,700 L309.5,698.5 L311.4,696.7 L313.5,694.4 L315.9,692 L318.6,689.3 L321.4,686.4 L324.3,683.5 L327.4,680.6 L330.5,677.7 L333.7,674.9 L336.9,672.4 L340,670 L343.2,667.8 L346.5,665.5 L349.9,663.3 L353.4,661.1 L357,659 L360.6,656.9 L364.3,654.9 L367.9,653 L371.5,651.2 L375.1,649.7 L378.6,648.2 L382,647 L385.3,646 L388.5,645.1 L391.7,644.4 L394.9,643.9 L398,643.4 L401.1,643.1 L404.2,642.9 L407.3,642.8 L410.5,642.8 L413.6,642.8 L416.8,642.9 L420,643 L423.3,643.2 L426.6,643.5 L429.9,643.9 L433.3,644.3 L436.7,644.9 L440.1,645.5 L443.4,646.2 L446.8,646.9 L450.2,647.6 L453.5,648.4 L456.8,649.2 L460,650 L463.2,650.8 L466.3,651.6 L469.3,652.5 L472.3,653.4 L475.3,654.3 L478.3,655.3 L481.3,656.3 L484.3,657.4 L487.4,658.5 L490.5,659.6 L493.7,660.8 L497,662 L500.5,663.3 L504.3,664.9 L508.3,666.5 L512.5,668.2 L516.7,670 L520.8,671.8 L524.8,673.5 L528.6,675.1 L532.1,676.6 L535.3,678 L537.9,679.1 L540,680" fill="none" stroke="#a6a6a6" stroke-width="0.8" stroke-opacity=".75"/>
<g transform="translate(14,832) rotate(-23.9)"><path d="M63.4,-21.3 L190,-21.3 L190,21.3 L63.4,21.3 A7.2,21.3 0 0 1 63.4,-21.3 Z" fill="url(#gBrown)"/><ellipse cx="63.4" cy="0" rx="7.2" ry="21.3" fill="#7a4e36"/><ellipse cx="64.3" cy="0.9" rx="4.8" ry="14.1" fill="#3e2416"/></g><g transform="translate(14,832) rotate(-23.9)"><path d="M0,-12.2 L64.4,-12.2 A3.7,12.2 0 0 1 64.4,12.2 L0,12.2 A3.7,12.2 0 0 1 0,-12.2 Z" fill="url(#gCu)"/><path d="M0,-12.2 L64.4,-12.2 A3.7,12.2 0 0 1 64.4,12.2 L0,12.2 A3.7,12.2 0 0 1 0,-12.2 Z" fill="url(#strand)"/><ellipse cx="0" cy="0" rx="3.7" ry="12.2" fill="#b98559"/><ellipse cx="0" cy="0" rx="1.1" ry="2.7" fill="#d9a377" stroke="#7d4a28" stroke-width=".6"/><ellipse cx="0" cy="-6.7" rx="1.1" ry="2.7" fill="#d9a377" stroke="#7d4a28" stroke-width=".6"/><ellipse cx="0" cy="6.7" rx="1.1" ry="2.7" fill="#d9a377" stroke="#7d4a28" stroke-width=".6"/><ellipse cx="-1.6" cy="-3.4" rx="1.1" ry="2.7" fill="#d9a377" stroke="#7d4a28" stroke-width=".6"/><ellipse cx="1.6" cy="-3.4" rx="1.1" ry="2.7" fill="#d9a377" stroke="#7d4a28" stroke-width=".6"/><ellipse cx="-1.6" cy="3.4" rx="1.1" ry="2.7" fill="#d9a377" stroke="#7d4a28" stroke-width=".6"/><ellipse cx="1.6" cy="3.4" rx="1.1" ry="2.7" fill="#d9a377" stroke="#7d4a28" stroke-width=".6"/><ellipse cx="0" cy="-0" rx="1.1" ry="2.7" fill="#d9a377" stroke="#7d4a28" stroke-width=".6"/></g><g transform="translate(98,809.5) rotate(-22.2)"><rect x="-3" y="-3" width="91.6" height="13" fill="#000" fill-opacity=".35" filter="url(#b1)"/></g><g transform="translate(98,809.5) rotate(-22.2)"><path d="M0,-5 L88.6,-5 L88.6,5 L0,5 A2,5 0 0 1 0,-5 Z" fill="url(#gCu)"/><path d="M0,-5 L88.6,-5 L88.6,5 L0,5 A2,5 0 0 1 0,-5 Z" fill="url(#strand)"/><ellipse cx="0" cy="0" rx="2" ry="5" fill="#b98559"/><ellipse cx="0" cy="0" rx="0.6" ry="1.1" fill="#d9a377" stroke="#7d4a28" stroke-width=".6"/><ellipse cx="0" cy="-2.8" rx="0.6" ry="1.1" fill="#d9a377" stroke="#7d4a28" stroke-width=".6"/><ellipse cx="0" cy="2.8" rx="0.6" ry="1.1" fill="#d9a377" stroke="#7d4a28" stroke-width=".6"/><ellipse cx="-0.9" cy="-1.4" rx="0.6" ry="1.1" fill="#d9a377" stroke="#7d4a28" stroke-width=".6"/><ellipse cx="0.9" cy="-1.4" rx="0.6" ry="1.1" fill="#d9a377" stroke="#7d4a28" stroke-width=".6"/><ellipse cx="-0.9" cy="1.4" rx="0.6" ry="1.1" fill="#d9a377" stroke="#7d4a28" stroke-width=".6"/><ellipse cx="0.9" cy="1.4" rx="0.6" ry="1.1" fill="#d9a377" stroke="#7d4a28" stroke-width=".6"/><ellipse cx="0" cy="-0" rx="0.6" ry="1.1" fill="#d9a377" stroke="#7d4a28" stroke-width=".6"/></g><g transform="translate(93,842) rotate(-23.5)"><path d="M62,-19.8 L125,-19.8 L125,19.8 L62,19.8 A6.7,19.8 0 0 1 62,-19.8 Z" fill="url(#gWhite)"/><ellipse cx="62" cy="0" rx="6.7" ry="19.8" fill="#f6f6f6" stroke="#d4d4d4" stroke-width="1"/><ellipse cx="62.8" cy="0.8" rx="4.4" ry="13.1" fill="#b4b4b4"/></g><g transform="translate(93,842) rotate(-23.5)"><path d="M0,-12.2 L63,-12.2 A3.7,12.2 0 0 1 63,12.2 L0,12.2 A3.7,12.2 0 0 1 0,-12.2 Z" fill="url(#gCu)"/><path d="M0,-12.2 L63,-12.2 A3.7,12.2 0 0 1 63,12.2 L0,12.2 A3.7,12.2 0 0 1 0,-12.2 Z" fill="url(#strand)"/><ellipse cx="0" cy="0" rx="3.7" ry="12.2" fill="#b98559"/><ellipse cx="0" cy="0" rx="1.1" ry="2.7" fill="#d9a377" stroke="#7d4a28" stroke-width=".6"/><ellipse cx="0" cy="-6.7" rx="1.1" ry="2.7" fill="#d9a377" stroke="#7d4a28" stroke-width=".6"/><ellipse cx="0" cy="6.7" rx="1.1" ry="2.7" fill="#d9a377" stroke="#7d4a28" stroke-width=".6"/><ellipse cx="-1.6" cy="-3.4" rx="1.1" ry="2.7" fill="#d9a377" stroke="#7d4a28" stroke-width=".6"/><ellipse cx="1.6" cy="-3.4" rx="1.1" ry="2.7" fill="#d9a377" stroke="#7d4a28" stroke-width=".6"/><ellipse cx="-1.6" cy="3.4" rx="1.1" ry="2.7" fill="#d9a377" stroke="#7d4a28" stroke-width=".6"/><ellipse cx="1.6" cy="3.4" rx="1.1" ry="2.7" fill="#d9a377" stroke="#7d4a28" stroke-width=".6"/><ellipse cx="0" cy="-0" rx="1.1" ry="2.7" fill="#d9a377" stroke="#7d4a28" stroke-width=".6"/></g>
<path d="M154.5,747 C158.8,744.8 171.1,738.2 180,734 C188.9,729.8 194.7,727 208,722 C221.3,717 242.7,707.7 260,704 C277.3,700.3 296.3,699 312,700 C327.7,701 339.3,705.8 354,710 C368.7,714.2 392.3,722.5 400,725 L420,745 L300,776 L240,800 L194,825.5 L193.6,815.9 L191.5,807.1 L187.3,795.4 L180.5,783.1 L172.4,770.4 L163.7,758.1 Z" fill="url(#gl5)"/><path d="M162.8,756.2 L164.6,755.3 L166.6,754.2 L168.7,753.1 L171,751.9 L173.4,750.7 L175.8,749.4 L178.2,748.2 L180.6,747 L182.9,745.9 L185.1,744.9 L187.3,743.9 L189.3,742.9 L191.3,742 L193.3,741.1 L195.2,740.2 L197.2,739.3 L199.2,738.4 L201.4,737.5 L203.8,736.5 L206.3,735.5 L209.1,734.4 L212.3,733.2 L215.8,731.9 L219.7,730.4 L223.7,728.8 L227.9,727.1 L232.3,725.4 L236.7,723.7 L241.2,722.1 L245.6,720.6 L250,719.1 L254.4,717.8 L258.5,716.7 L262.5,715.7 L266.6,714.9 L270.7,714.2 L274.9,713.6 L279.1,713 L283.3,712.6 L287.5,712.2 L291.7,711.9 L295.8,711.8 L299.8,711.7 L303.8,711.7 L307.6,711.8 L311.2,712 L314.6,712.3 L317.8,712.7 L320.9,713.2 L324,713.8 L327.1,714.6 L330.2,715.4 L333.3,716.3 L336.6,717.3 L339.9,718.3 L343.4,719.4 L347,720.4 L350.6,721.5 L354.4,722.6 L358.4,723.8 L362.6,725.2 L367,726.6 L367,726.6 L361,730.3 L356,731.6 L351.4,732.5 L347.2,733.3 L343,733.8 L338.8,734.2 L334.9,734.5 L331.2,734.8 L327.8,735.1 L324.7,735.4 L321.8,735.7 L319.1,736.2 L316.6,736.6 L314.2,737.1 L311.9,737.7 L309.4,738.3 L306.5,738.9 L303.4,739.5 L300.1,740.1 L296.7,740.8 L293.3,741.4 L289.8,742.1 L286.2,742.9 L282.7,743.6 L279.2,744.4 L275.8,745.2 L272.4,746 L269.3,746.8 L266.3,747.6 L263.2,748.5 L259.7,749.6 L255.9,750.8 L251.9,752.2 L247.8,753.5 L243.6,754.9 L239.3,756.3 L235.1,757.7 L230.9,759 L226.8,760.2 L222.9,761.2 L219.7,762 L216.9,762.5 L214.4,762.9 L212.1,763.1 L209.9,763.3 L207.8,763.5 L205.7,763.5 L203.6,763.6 L201.3,763.6 L199,763.6 L196.5,763.6 L194,763.6 L191.4,763.5 L188.7,763.4 L185.9,763.4 L182.9,763.3 L179.8,763.1 L176.7,762.8 L173.5,762.2 L170.4,761.4 L167.1,760 L162.8,756.2 Z" fill="url(#gl5p)" fill-opacity="1" filter="url(#b2)"/><ellipse cx="262" cy="748" rx="70" ry="22" transform="rotate(-14 262 748)" fill="#626262" fill-opacity="0.85" filter="url(#b8)"/><path d="M238,772 C240.3,768.3 243,755.7 252,750 C261,744.3 278.2,741.7 292,738 C305.8,734.3 327.8,729.7 335,728" fill="none" stroke="#4590d6" stroke-width="17" stroke-opacity="0.6" stroke-linecap="round" stroke-linejoin="round" filter="url(#b4)"/><path d="M240,770 C242,767 250,755 252,752" fill="none" stroke="#4590d6" stroke-width="16" stroke-opacity="0.5" stroke-linecap="round" stroke-linejoin="round" filter="url(#b4)"/><path d="M154.5,747 L155.7,746.4 L157.2,745.6 L159,744.6 L161,743.6 L163.2,742.5 L165.5,741.2 L167.9,740 L170.4,738.7 L172.9,737.5 L175.3,736.3 L177.7,735.1 L180,734 L182.2,733 L184.2,732 L186.3,731.1 L188.3,730.1 L190.3,729.2 L192.3,728.3 L194.5,727.4 L196.8,726.4 L199.3,725.4 L201.9,724.3 L204.8,723.2 L208,722 L211.5,720.7 L215.3,719.2 L219.3,717.6 L223.6,715.9 L228,714.2 L232.5,712.5 L237.1,710.8 L241.8,709.2 L246.4,707.7 L251.1,706.3 L255.6,705 L260,704 L264.4,703.1 L268.8,702.4 L273.2,701.7 L277.7,701.1 L282.2,700.6 L286.6,700.2 L291,700 L295.4,699.8 L299.7,699.7 L303.9,699.7 L308,699.8 L312,700 L315.8,700.3 L319.5,700.8 L323.1,701.4 L326.6,702.1 L330,702.9 L333.4,703.8 L336.7,704.8 L340.1,705.8 L343.5,706.8 L346.9,707.9 L350.4,708.9 L354,710 L357.8,711.1 L362,712.4 L366.3,713.8 L370.7,715.2 L375.2,716.7 L379.6,718.1 L383.9,719.6 L387.9,720.9 L391.6,722.2 L394.9,723.3 L397.8,724.3 L400,725 L397.7,731.8 L395.5,731.2 L392.6,730.3 L389.3,729.2 L385.5,728 L381.5,726.7 L377.2,725.3 L372.8,723.9 L368.3,722.5 L363.9,721.2 L359.6,719.9 L355.6,718.7 L351.8,717.7 L348.1,716.7 L344.5,715.7 L341,714.7 L337.7,713.7 L334.4,712.8 L331.1,711.9 L327.9,711.2 L324.7,710.5 L321.5,709.9 L318.3,709.4 L314.9,709 L311.4,708.8 L307.7,708.7 L303.8,708.7 L299.8,708.7 L295.7,708.9 L291.5,709.1 L287.3,709.5 L283.1,709.9 L278.8,710.4 L274.5,711 L270.3,711.8 L266.1,712.6 L262,713.4 L258,714.5 L253.8,715.7 L249.4,717.1 L245,718.6 L240.4,720.1 L235.9,721.7 L231.5,723.4 L227.1,725.1 L222.9,726.7 L218.9,728.3 L215,729.8 L211.5,731.1 L208.3,732.3 L205.5,733.4 L202.9,734.4 L200.5,735.4 L198.3,736.3 L196.2,737.2 L194.2,738.1 L192.3,738.9 L190.3,739.8 L188.3,740.7 L186.3,741.7 L184.1,742.7 L181.9,743.7 L179.6,744.9 L177.1,746 L174.7,747.3 L172.3,748.5 L169.9,749.7 L167.6,750.9 L165.4,752 L163.4,753 L161.6,754 L160.1,754.8 L158.8,755.4 Z" fill="#fdfdfd" filter="url(#b1)"/><path d="M154.5,747 L155.7,746.4 L157.2,745.6 L159,744.6 L161,743.6 L163.2,742.5 L165.5,741.2 L167.9,740 L170.4,738.7 L172.9,737.5 L175.3,736.3 L177.7,735.1 L180,734 L182.2,733 L184.2,732 L186.3,731.1 L188.3,730.1 L190.3,729.2 L192.3,728.3 L194.5,727.4 L196.8,726.4 L199.3,725.4 L201.9,724.3 L204.8,723.2 L208,722 L211.5,720.7 L215.3,719.2 L219.3,717.6 L223.6,715.9 L228,714.2 L232.5,712.5 L237.1,710.8 L241.8,709.2 L246.4,707.7 L251.1,706.3 L255.6,705 L260,704 L264.4,703.1 L268.8,702.4 L273.2,701.7 L277.7,701.1 L282.2,700.6 L286.6,700.2 L291,700 L295.4,699.8 L299.7,699.7 L303.9,699.7 L308,699.8 L312,700 L315.8,700.3 L319.5,700.8 L323.1,701.4 L326.6,702.1 L330,702.9 L333.4,703.8 L336.7,704.8 L340.1,705.8 L343.5,706.8 L346.9,707.9 L350.4,708.9 L354,710 L357.8,711.1 L362,712.4 L366.3,713.8 L370.7,715.2 L375.2,716.7 L379.6,718.1 L383.9,719.6 L387.9,720.9 L391.6,722.2 L394.9,723.3 L397.8,724.3 L400,725" fill="none" stroke="#a6a6a6" stroke-width="0.8" stroke-opacity=".75"/><path d="M162.3,744.7 L163.2,745.9 L164.5,747.5 L166.1,749.5 L167.8,751.6 L169.5,753.7 L171,755.8 L172.4,757.8 L173.8,759.8 L175.2,761.8 L176.6,763.9 L178,766 L179.3,768.1 L180.6,770.2 L182,772.3 L183.3,774.4 L184.5,776.6 L185.7,778.7 L186.9,780.8 L188.1,782.8 L189.2,784.9 L190.3,787 L191.4,789.1 L192.4,791.1 L193.3,793.1 L194,795.1 L194.8,797.1 L195.4,799.2 L196,801.1 L196.5,803 L197,804.8 L197.4,806.4 L197.7,807.9 L197.7,809.4 L197.7,810.9 L197.7,812.4 L197.6,814 L197.5,815.8 L197.3,817.7 L197.1,819.7 L196.8,821.6 L196.6,823.2 L196.3,824.3" fill="none" stroke="#d8d8d8" stroke-width="9" stroke-opacity=".55" filter="url(#b2)"/><path d="M154.5,747 L155.5,748.2 L156.9,749.8 L158.5,751.8 L160.3,753.9 L162.1,756.1 L163.7,758.1 L165.2,760.1 L166.7,762.1 L168.1,764.2 L169.6,766.3 L171,768.3 L172.4,770.4 L173.8,772.5 L175.2,774.6 L176.6,776.8 L177.9,778.9 L179.2,781 L180.5,783.1 L181.7,785.2 L182.9,787.3 L184.1,789.3 L185.3,791.4 L186.3,793.4 L187.3,795.4 L188.1,797.5 L188.9,799.5 L189.7,801.5 L190.3,803.5 L190.9,805.3 L191.5,807.1 L192,808.7 L192.4,810.2 L192.8,811.6 L193.1,813 L193.4,814.4 L193.6,815.9 L193.8,817.5 L193.9,819.4 L193.9,821.2 L194,823 L194,824.4 L194,825.5 L196.3,824.3 L196.6,823.2 L196.8,821.6 L197.1,819.7 L197.3,817.7 L197.5,815.8 L197.6,814 L197.7,812.4 L197.7,810.9 L197.7,809.4 L197.7,807.9 L197.4,806.4 L197,804.8 L196.5,803 L196,801.1 L195.4,799.2 L194.8,797.1 L194,795.1 L193.3,793.1 L192.4,791.1 L191.4,789.1 L190.3,787 L189.2,784.9 L188.1,782.8 L186.9,780.8 L185.7,778.7 L184.5,776.6 L183.3,774.4 L182,772.3 L180.6,770.2 L179.3,768.1 L178,766 L176.6,763.9 L175.2,761.8 L173.8,759.8 L172.4,757.8 L171,755.8 L169.5,753.7 L167.8,751.6 L166.1,749.5 L164.5,747.5 L163.2,745.9 L162.3,744.7 Z" fill="url(#gb1)"/><path d="M154.5,747 L155.5,748.2 L156.9,749.8 L158.5,751.8 L160.3,753.9 L162.1,756.1 L163.7,758.1 L165.2,760.1 L166.7,762.1 L168.1,764.2 L169.6,766.3 L171,768.3 L172.4,770.4 L173.8,772.5 L175.2,774.6 L176.6,776.8 L177.9,778.9 L179.2,781 L180.5,783.1 L181.7,785.2 L182.9,787.3 L184.1,789.3 L185.3,791.4 L186.3,793.4 L187.3,795.4 L188.1,797.5 L188.9,799.5 L189.7,801.5 L190.3,803.5 L190.9,805.3 L191.5,807.1 L192,808.7 L192.4,810.2 L192.8,811.6 L193.1,813 L193.4,814.4 L193.6,815.9 L193.8,817.5 L193.9,819.4 L193.9,821.2 L194,823 L194,824.4 L194,825.5" fill="none" stroke="#ffffff" stroke-width="1.4"/><path d="M190.3,787 L191.4,789.1 L192.4,791.1 L193.3,793.1 L194,795.1 L194.8,797.1 L195.4,799.2 L196,801.1 L196.5,803 L197,804.8 L197.4,806.4 L197.7,807.9 L197.7,809.4 L197.7,810.9 L197.7,812.4 L197.6,814 L197.5,815.8 L197.3,817.7 L197.1,819.7 L196.8,821.6 L196.6,823.2 L196.3,824.3" fill="none" stroke="#8c8c8c" stroke-width="1" stroke-opacity=".8"/>
<path d="M712,575 C715,571.8 723.9,561.4 730,556 C736.1,550.6 743.4,545.4 748.7,542.6 C754,539.9 758.9,539.2 762,539.5 C765.1,539.8 765.8,543 767.4,544.1 C769,545.2 770.3,545.2 771.7,546 C773.1,546.9 774.6,547.9 776,549.2 C777.4,550.4 778.8,551.8 780,553.4 C781.3,555 782.6,556.7 783.7,558.5 C784.8,560.3 785.9,562.3 786.8,564.3 C787.7,566.3 788.6,568.4 789.2,570.5 C789.9,572.6 790.4,574.8 790.8,576.9 C791.2,579 791.5,581.2 791.6,583.2 C791.7,585.2 791.6,587.2 791.4,589 C791.2,590.9 790.6,593.3 790.4,594.2 L810,640 L730,650 Z" fill="url(#gl6)"/><path d="M734.7,561.2 L736.1,560 L737.6,558.7 L739.1,557.5 L740.7,556.3 L742.2,555.1 L743.7,554 L745.2,552.9 L746.7,551.9 L748.1,551 L749.5,550.2 L750.7,549.4 L751.9,548.9 L752.8,548.4 L753.7,548.1 L754.7,547.8 L755.6,547.5 L756.6,547.3 L757.6,547.1 L758.6,547 L759.5,546.9 L760.5,546.8 L761.5,546.7 L762.5,546.5 L763.3,546.4 L763.3,546.4 L763.7,554.1 L762.8,558.1 L762.1,561.3 L761.5,563.9 L761.1,566.1 L760.9,568 L760.9,569.5 L761.1,570.7 L761.5,571.6 L762.2,572.1 L763,572.2 L763.6,572.1 L763.4,572 L762.5,572 L761.4,572 L759.9,571.8 L758.1,571.5 L756.1,571.1 L753.7,570.6 L751.1,569.9 L748.2,568.9 L744.9,567.6 L741.1,565.8 L734.7,561.2 Z" fill="url(#gl6p)" fill-opacity="1" filter="url(#b2)"/><path d="M762.4,546.1 C763.1,546.4 765.3,547.2 766.7,548 C768.1,548.9 769.6,549.9 771,551.2 C772.4,552.4 773.8,553.8 775,555.4 C776.3,557 777.6,558.7 778.7,560.5 C779.8,562.3 780.9,564.3 781.8,566.3 C782.7,568.3 783.6,570.4 784.2,572.5 C784.9,574.6 785.4,576.8 785.8,578.9 C786.2,581 786.5,583.2 786.6,585.2 C786.7,587.2 786.6,589.2 786.4,591 C786.2,592.9 785.6,595.3 785.4,596.2" fill="none" stroke="#000" stroke-opacity=".6" stroke-width="13" filter="url(#b4)"/><path d="M767.4,544.1 C768.1,544.4 770.3,545.2 771.7,546 C773.1,546.9 774.6,547.9 776,549.2 C777.4,550.4 778.8,551.8 780,553.4 C781.3,555 782.6,556.7 783.7,558.5 C784.8,560.3 785.9,562.3 786.8,564.3 C787.7,566.3 788.6,568.4 789.2,570.5 C789.9,572.6 790.4,574.8 790.8,576.9 C791.2,579 791.5,581.2 791.6,583.2 C791.7,585.2 791.6,587.2 791.4,589 C791.2,590.9 790.6,593.3 790.4,594.2" fill="none" stroke="#0d0d0d" stroke-width="3" filter="url(#b1)"/><path d="M712,575 L712.9,574.1 L714,572.9 L715.2,571.5 L716.6,569.9 L718.2,568.1 L719.8,566.3 L721.5,564.5 L723.3,562.6 L725,560.8 L726.8,559.1 L728.4,557.4 L730,556 L731.6,554.7 L733.1,553.3 L734.8,552 L736.4,550.7 L738,549.5 L739.6,548.3 L741.3,547.2 L742.8,546.1 L744.4,545.1 L745.9,544.2 L747.3,543.3 L748.7,542.6 L750,542 L751.4,541.5 L752.7,541 L754,540.7 L755.3,540.4 L756.5,540.2 L757.7,540.1 L758.8,539.9 L759.7,539.8 L760.6,539.7 L761.4,539.6 L762,539.5 L762.6,542.7 L761.9,543 L761,543.3 L760.1,543.5 L759.2,543.7 L758.2,544 L757.2,544.3 L756.1,544.6 L755,545 L754,545.4 L752.9,545.9 L751.9,546.4 L750.9,547 L749.8,547.8 L748.6,548.6 L747.2,549.6 L745.9,550.7 L744.5,551.8 L743,553 L741.5,554.2 L740.1,555.5 L738.7,557 L737.4,558.5 L736.1,559.9 L734.8,561.4 L733.6,562.9 L732.3,564.6 L730.9,566.5 L729.4,568.4 L727.9,570.4 L726.5,572.4 L725.1,574.4 L723.8,576.3 L722.6,578.1 L721.5,579.7 L720.6,581.2 L719.9,582.3 Z" fill="#fdfdfd" filter="url(#b1)"/><path d="M712,575 L712.9,574.1 L714,572.9 L715.2,571.5 L716.6,569.9 L718.2,568.1 L719.8,566.3 L721.5,564.5 L723.3,562.6 L725,560.8 L726.8,559.1 L728.4,557.4 L730,556 L731.6,554.7 L733.1,553.3 L734.8,552 L736.4,550.7 L738,549.5 L739.6,548.3 L741.3,547.2 L742.8,546.1 L744.4,545.1 L745.9,544.2 L747.3,543.3 L748.7,542.6 L750,542 L751.4,541.5 L752.7,541 L754,540.7 L755.3,540.4 L756.5,540.2 L757.7,540.1 L758.8,539.9 L759.7,539.8 L760.6,539.7 L761.4,539.6 L762,539.5" fill="none" stroke="#a6a6a6" stroke-width="0.8" stroke-opacity=".75"/><path d="M606,620 C610,616.2 621.5,603.8 630,597 C638.5,590.2 646,582.8 657,579 C668,575.2 683.8,574.3 696,574 C708.2,573.7 719,575.3 730,577 C741,578.7 750.3,580.5 762,584 C773.7,587.5 793.7,595.7 800,598 L812.5,648 L628.5,670 Z" fill="url(#gl7)"/><path d="M640.7,597.2 L642.7,595.6 L644.7,594 L646.7,592.5 L648.7,591.1 L650.7,589.8 L652.7,588.6 L654.8,587.5 L657,586.5 L659.3,585.6 L661.8,584.8 L664.5,584.1 L667.4,583.5 L670.4,583 L673.6,582.5 L676.8,582.1 L680.1,581.8 L683.4,581.6 L686.7,581.4 L690,581.2 L693.1,581.1 L696.2,581 L699,581 L701.8,581 L704.6,581.1 L707.3,581.2 L710,581.5 L712.7,581.7 L715.4,582 L718.1,582.3 L720.8,582.7 L723.5,583.1 L726.2,583.5 L728.9,583.9 L731.6,584.3 L734.2,584.8 L736.8,585.2 L739.3,585.7 L741.8,586.1 L744.3,586.7 L746.8,587.2 L749.3,587.8 L751.9,588.4 L754.5,589.1 L757.2,589.9 L760,590.7 L762.9,591.6 L766.1,592.7 L769.6,593.9 L773.2,595.2 L776.9,596.6 L780.5,598 L784,599.3 L787.4,600.6 L790.5,601.8 L790.5,601.8 L785,606.7 L780.5,608.6 L776,609.7 L771.6,610.6 L767.3,611.2 L763.2,611.7 L759.4,612.2 L756,612.8 L753.1,613.4 L750.3,614.1 L747.6,614.6 L745,615.2 L742.6,615.7 L740.2,616.2 L737.9,616.7 L735.6,617.1 L733.3,617.4 L731,617.7 L728.7,617.9 L726.3,618.1 L723.7,618.2 L721,618.2 L718.4,618.1 L715.9,618 L713.5,617.9 L711.2,617.7 L709,617.5 L706.9,617.3 L704.9,617 L702.9,616.7 L701,616.4 L699.1,616 L696.9,615.7 L694.3,615.3 L691.4,614.8 L688.5,614.3 L685.7,613.8 L682.8,613.3 L680.1,612.7 L677.4,612 L674.9,611.3 L672.6,610.6 L670.5,609.9 L668.7,609 L667.1,608 L665.6,607 L663.9,606 L662,605.1 L659.7,604.2 L657.1,603.4 L654.1,602.7 L650.8,601.8 L646.8,600.7 L640.7,597.2 Z" fill="url(#gl7p)" fill-opacity="1" filter="url(#b2)"/><path d="M683.6,583.6 L711.8,612.4" stroke="#c9c9c9" stroke-opacity=".55" stroke-width="4" stroke-linecap="round" filter="url(#b2)"/><path d="M714.1,612.7 L741.2,589.1" stroke="#c9c9c9" stroke-opacity=".55" stroke-width="4" stroke-linecap="round" filter="url(#b2)"/><path d="M606,620 L607.2,618.9 L608.6,617.4 L610.2,615.8 L612.1,613.9 L614.1,611.8 L616.3,609.6 L618.6,607.4 L620.9,605.1 L623.2,602.9 L625.5,600.8 L627.8,598.8 L630,597 L632.1,595.3 L634.2,593.6 L636.3,591.8 L638.3,590.1 L640.4,588.5 L642.6,586.9 L644.7,585.3 L647,583.9 L649.3,582.5 L651.8,581.2 L654.3,580 L657,579 L659.8,578.1 L662.9,577.3 L666,576.6 L669.3,576.1 L672.7,575.6 L676.1,575.2 L679.5,574.9 L682.9,574.6 L686.3,574.4 L689.7,574.2 L692.9,574.1 L696,574 L699,574 L702,574 L704.9,574.1 L707.8,574.3 L710.6,574.5 L713.4,574.8 L716.2,575.1 L719,575.4 L721.8,575.8 L724.5,576.2 L727.3,576.6 L730,577 L732.7,577.4 L735.4,577.9 L738,578.3 L740.6,578.8 L743.2,579.3 L745.8,579.8 L748.3,580.4 L751,581 L753.6,581.7 L756.3,582.4 L759.1,583.2 L762,584 L765.1,585 L768.4,586.1 L772,587.3 L775.6,588.7 L779.3,590 L783,591.4 L786.6,592.8 L789.9,594.1 L793,595.3 L795.8,596.4 L798.1,597.3 L800,598 L798.8,601.1 L796.9,600.4 L794.6,599.6 L791.8,598.6 L788.6,597.4 L785.2,596.2 L781.7,594.9 L778,593.6 L774.3,592.3 L770.7,591 L767.1,589.9 L763.8,588.8 L760.8,587.9 L758,587.2 L755.2,586.5 L752.5,585.9 L749.9,585.3 L747.4,584.7 L744.8,584.2 L742.3,583.8 L739.7,583.4 L737.2,583 L734.6,582.6 L732,582.2 L729.3,581.9 L726.5,581.5 L723.8,581.2 L721,580.9 L718.3,580.6 L715.6,580.3 L712.9,580.1 L710.2,579.9 L707.4,579.7 L704.6,579.6 L701.8,579.6 L699,579.6 L696.1,579.8 L693.1,579.9 L689.9,580.1 L686.7,580.3 L683.3,580.6 L680,581 L676.7,581.5 L673.5,582 L670.3,582.6 L667.3,583.3 L664.5,584.1 L661.8,584.9 L659.4,585.8 L657.2,586.8 L655.1,588 L653.1,589.2 L651.1,590.5 L649.2,591.9 L647.4,593.4 L645.5,595 L643.6,596.7 L641.7,598.5 L639.8,600.3 L637.7,602.1 L635.7,604 L633.8,605.8 L631.8,607.7 L629.7,609.9 L627.5,612.1 L625.4,614.4 L623.3,616.7 L621.3,618.9 L619.4,621 L617.6,623 L616,624.8 L614.7,626.4 L613.6,627.7 Z" fill="#fdfdfd" filter="url(#b1)"/><path d="M606,620 L607.2,618.9 L608.6,617.4 L610.2,615.8 L612.1,613.9 L614.1,611.8 L616.3,609.6 L618.6,607.4 L620.9,605.1 L623.2,602.9 L625.5,600.8 L627.8,598.8 L630,597 L632.1,595.3 L634.2,593.6 L636.3,591.8 L638.3,590.1 L640.4,588.5 L642.6,586.9 L644.7,585.3 L647,583.9 L649.3,582.5 L651.8,581.2 L654.3,580 L657,579 L659.8,578.1 L662.9,577.3 L666,576.6 L669.3,576.1 L672.7,575.6 L676.1,575.2 L679.5,574.9 L682.9,574.6 L686.3,574.4 L689.7,574.2 L692.9,574.1 L696,574 L699,574 L702,574 L704.9,574.1 L707.8,574.3 L710.6,574.5 L713.4,574.8 L716.2,575.1 L719,575.4 L721.8,575.8 L724.5,576.2 L727.3,576.6 L730,577 L732.7,577.4 L735.4,577.9 L738,578.3 L740.6,578.8 L743.2,579.3 L745.8,579.8 L748.3,580.4 L751,581 L753.6,581.7 L756.3,582.4 L759.1,583.2 L762,584 L765.1,585 L768.4,586.1 L772,587.3 L775.6,588.7 L779.3,590 L783,591.4 L786.6,592.8 L789.9,594.1 L793,595.3 L795.8,596.4 L798.1,597.3 L800,598" fill="none" stroke="#a6a6a6" stroke-width="0.8" stroke-opacity=".75"/><path d="M494,670 C497.5,666.3 507.3,654.5 515,648 C522.7,641.5 529.5,635.5 540,631 C550.5,626.5 563,622.7 578,621 C593,619.3 613,619.2 630,621 C647,622.8 665,628 680,632 C695,636 713.3,642.8 720,645 L732.5,695 L516.5,720 Z" fill="url(#gl8)"/><path d="M525.1,648.6 L526.9,647.2 L528.7,645.8 L530.5,644.4 L532.4,643.1 L534.3,641.9 L536.2,640.7 L538.3,639.6 L540.5,638.5 L542.8,637.4 L545.3,636.4 L547.9,635.4 L550.6,634.4 L553.4,633.4 L556.2,632.5 L559.2,631.7 L562.2,630.9 L565.3,630.2 L568.5,629.5 L571.8,628.9 L575.3,628.4 L578.8,628 L582.5,627.6 L586.4,627.3 L590.4,627 L594.6,626.8 L598.9,626.7 L603.3,626.7 L607.7,626.7 L612.1,626.8 L616.5,627 L620.8,627.2 L625.1,627.6 L629.2,628 L633.3,628.5 L637.4,629.1 L641.6,629.8 L645.8,630.6 L650,631.5 L654.1,632.5 L658.3,633.5 L662.4,634.6 L666.5,635.6 L670.5,636.7 L674.4,637.7 L678.2,638.8 L681.9,639.8 L685.7,640.9 L689.5,642.1 L693.4,643.3 L697.2,644.6 L700.9,645.8 L704.4,647 L707.7,648.2 L710.7,649.2 L710.7,649.2 L705.6,654.3 L701.2,656.4 L696.8,657.7 L692.5,658.7 L688.1,659.5 L683.9,660.1 L679.7,660.7 L675.8,661.2 L671.9,661.7 L667.9,662 L663.6,662.2 L659.4,662.3 L655.2,662.4 L651.1,662.4 L647.1,662.3 L643.1,662.3 L639.3,662.3 L635.6,662.3 L632,662.3 L628.7,662.3 L625.4,662.4 L622.1,662.5 L618.5,662.6 L614.8,662.6 L611,662.6 L607.2,662.7 L603.3,662.7 L599.6,662.7 L595.9,662.7 L592.3,662.7 L588.8,662.6 L585.6,662.5 L582.6,662.4 L579.9,662.3 L577.3,662.1 L574.8,661.9 L572.2,661.7 L569.7,661.5 L567.3,661.3 L564.8,661 L562.3,660.7 L559.8,660.4 L557.3,660.1 L554.7,659.7 L552.2,659.2 L550.1,658.6 L547.9,657.8 L545.7,657.1 L543.3,656.3 L540.8,655.5 L537.9,654.6 L534.7,653.6 L531,652.3 L525.1,648.6 Z" fill="url(#gl8p)" fill-opacity="1" filter="url(#b2)"/><path d="M565.7,632.1 L607.2,657.3" stroke="#c9c9c9" stroke-opacity=".55" stroke-width="4" stroke-linecap="round" filter="url(#b2)"/><path d="M611.1,657.4 L649.3,634.5" stroke="#c9c9c9" stroke-opacity=".55" stroke-width="4" stroke-linecap="round" filter="url(#b2)"/><path d="M494,670 L495,668.9 L496.2,667.5 L497.7,665.9 L499.3,664.1 L501.1,662.1 L502.9,660.1 L504.9,657.9 L506.9,655.8 L509,653.7 L511,651.6 L513,649.7 L515,648 L516.9,646.4 L518.8,644.8 L520.7,643.2 L522.6,641.7 L524.5,640.2 L526.4,638.8 L528.5,637.3 L530.6,636 L532.7,634.6 L535,633.4 L537.4,632.2 L540,631 L542.7,629.9 L545.4,628.8 L548.3,627.8 L551.2,626.8 L554.2,625.8 L557.3,624.9 L560.5,624.1 L563.8,623.3 L567.2,622.6 L570.7,622 L574.3,621.5 L578,621 L581.8,620.6 L585.9,620.3 L590.1,620 L594.4,619.9 L598.8,619.7 L603.2,619.7 L607.8,619.7 L612.3,619.8 L616.8,620 L621.3,620.2 L625.7,620.6 L630,621 L634.3,621.5 L638.6,622.2 L642.9,622.9 L647.2,623.8 L651.5,624.7 L655.8,625.7 L660,626.7 L664.1,627.8 L668.2,628.9 L672.3,629.9 L676.2,631 L680,632 L683.8,633.1 L687.7,634.2 L691.6,635.4 L695.6,636.7 L699.4,637.9 L703.1,639.2 L706.7,640.4 L710,641.6 L713,642.6 L715.8,643.6 L718.1,644.4 L720,645 L719,648.1 L717,647.6 L714.6,646.8 L711.9,645.9 L708.8,644.9 L705.5,643.8 L701.9,642.7 L698.2,641.5 L694.4,640.3 L690.5,639.1 L686.6,638 L682.7,636.9 L678.9,636 L675.1,635 L671.2,634 L667.1,633 L663.1,632 L658.9,631 L654.7,630.1 L650.5,629.2 L646.2,628.3 L642,627.6 L637.8,626.9 L633.6,626.3 L629.5,625.9 L625.3,625.6 L621,625.3 L616.6,625.1 L612.1,625 L607.7,625 L603.3,625 L598.9,625.1 L594.6,625.3 L590.4,625.6 L586.3,625.9 L582.4,626.3 L578.6,626.7 L575.1,627.2 L571.7,627.8 L568.3,628.5 L565.1,629.3 L562,630.1 L559,631.1 L556.1,632.1 L553.3,633.1 L550.5,634.2 L547.9,635.3 L545.3,636.5 L542.9,637.6 L540.6,638.8 L538.6,640 L536.6,641.3 L534.7,642.6 L532.9,643.9 L531.2,645.3 L529.5,646.8 L527.8,648.3 L526.1,649.9 L524.4,651.5 L522.6,653.2 L520.9,654.8 L519.2,656.5 L517.5,658.3 L515.7,660.3 L513.9,662.4 L512,664.6 L510.3,666.7 L508.5,668.9 L506.9,670.9 L505.4,672.8 L504.1,674.6 L502.9,676.1 L501.9,677.3 Z" fill="#fdfdfd" filter="url(#b1)"/><path d="M494,670 L495,668.9 L496.2,667.5 L497.7,665.9 L499.3,664.1 L501.1,662.1 L502.9,660.1 L504.9,657.9 L506.9,655.8 L509,653.7 L511,651.6 L513,649.7 L515,648 L516.9,646.4 L518.8,644.8 L520.7,643.2 L522.6,641.7 L524.5,640.2 L526.4,638.8 L528.5,637.3 L530.6,636 L532.7,634.6 L535,633.4 L537.4,632.2 L540,631 L542.7,629.9 L545.4,628.8 L548.3,627.8 L551.2,626.8 L554.2,625.8 L557.3,624.9 L560.5,624.1 L563.8,623.3 L567.2,622.6 L570.7,622 L574.3,621.5 L578,621 L581.8,620.6 L585.9,620.3 L590.1,620 L594.4,619.9 L598.8,619.7 L603.2,619.7 L607.8,619.7 L612.3,619.8 L616.8,620 L621.3,620.2 L625.7,620.6 L630,621 L634.3,621.5 L638.6,622.2 L642.9,622.9 L647.2,623.8 L651.5,624.7 L655.8,625.7 L660,626.7 L664.1,627.8 L668.2,628.9 L672.3,629.9 L676.2,631 L680,632 L683.8,633.1 L687.7,634.2 L691.6,635.4 L695.6,636.7 L699.4,637.9 L703.1,639.2 L706.7,640.4 L710,641.6 L713,642.6 L715.8,643.6 L718.1,644.4 L720,645" fill="none" stroke="#a6a6a6" stroke-width="0.8" stroke-opacity=".75"/>
<g transform="translate(200,806.5) rotate(-24.3)"><path d="M61,-21.3 L170,-21.3 L170,21.3 L61,21.3 A7.2,21.3 0 0 1 61,-21.3 Z" fill="url(#gBlue)"/><ellipse cx="61" cy="0" rx="7.2" ry="21.3" fill="#58b4ee"/><ellipse cx="61.9" cy="0.9" rx="4.8" ry="14.1" fill="#176aa8"/></g><g transform="translate(200,806.5) rotate(-24.3)"><path d="M0,-12.2 L62,-12.2 A3.7,12.2 0 0 1 62,12.2 L0,12.2 A3.7,12.2 0 0 1 0,-12.2 Z" fill="url(#gCu)"/><path d="M0,-12.2 L62,-12.2 A3.7,12.2 0 0 1 62,12.2 L0,12.2 A3.7,12.2 0 0 1 0,-12.2 Z" fill="url(#strand)"/><ellipse cx="0" cy="0" rx="3.7" ry="12.2" fill="#b98559"/><ellipse cx="0" cy="0" rx="1.1" ry="2.7" fill="#d9a377" stroke="#7d4a28" stroke-width=".6"/><ellipse cx="0" cy="-6.7" rx="1.1" ry="2.7" fill="#d9a377" stroke="#7d4a28" stroke-width=".6"/><ellipse cx="0" cy="6.7" rx="1.1" ry="2.7" fill="#d9a377" stroke="#7d4a28" stroke-width=".6"/><ellipse cx="-1.6" cy="-3.4" rx="1.1" ry="2.7" fill="#d9a377" stroke="#7d4a28" stroke-width=".6"/><ellipse cx="1.6" cy="-3.4" rx="1.1" ry="2.7" fill="#d9a377" stroke="#7d4a28" stroke-width=".6"/><ellipse cx="-1.6" cy="3.4" rx="1.1" ry="2.7" fill="#d9a377" stroke="#7d4a28" stroke-width=".6"/><ellipse cx="1.6" cy="3.4" rx="1.1" ry="2.7" fill="#d9a377" stroke="#7d4a28" stroke-width=".6"/><ellipse cx="0" cy="-0" rx="1.1" ry="2.7" fill="#d9a377" stroke="#7d4a28" stroke-width=".6"/></g><g transform="translate(285.7,783) rotate(-21.8)"><rect x="-3" y="-3" width="91.7" height="13" fill="#000" fill-opacity=".35" filter="url(#b1)"/></g><g transform="translate(285.7,783) rotate(-21.8)"><path d="M0,-5 L88.7,-5 L88.7,5 L0,5 A2,5 0 0 1 0,-5 Z" fill="url(#gCu)"/><path d="M0,-5 L88.7,-5 L88.7,5 L0,5 A2,5 0 0 1 0,-5 Z" fill="url(#strand)"/><ellipse cx="0" cy="0" rx="2" ry="5" fill="#b98559"/><ellipse cx="0" cy="0" rx="0.6" ry="1.1" fill="#d9a377" stroke="#7d4a28" stroke-width=".6"/><ellipse cx="0" cy="-2.8" rx="0.6" ry="1.1" fill="#d9a377" stroke="#7d4a28" stroke-width=".6"/><ellipse cx="0" cy="2.8" rx="0.6" ry="1.1" fill="#d9a377" stroke="#7d4a28" stroke-width=".6"/><ellipse cx="-0.9" cy="-1.4" rx="0.6" ry="1.1" fill="#d9a377" stroke="#7d4a28" stroke-width=".6"/><ellipse cx="0.9" cy="-1.4" rx="0.6" ry="1.1" fill="#d9a377" stroke="#7d4a28" stroke-width=".6"/><ellipse cx="-0.9" cy="1.4" rx="0.6" ry="1.1" fill="#d9a377" stroke="#7d4a28" stroke-width=".6"/><ellipse cx="0.9" cy="1.4" rx="0.6" ry="1.1" fill="#d9a377" stroke="#7d4a28" stroke-width=".6"/><ellipse cx="0" cy="-0" rx="0.6" ry="1.1" fill="#d9a377" stroke="#7d4a28" stroke-width=".6"/></g><g transform="translate(280,817.6) rotate(-23.5)"><path d="M59.5,-19.8 L120,-19.8 L120,19.8 L59.5,19.8 A6.7,19.8 0 0 1 59.5,-19.8 Z" fill="url(#gWhite)"/><ellipse cx="59.5" cy="0" rx="6.7" ry="19.8" fill="#f6f6f6" stroke="#d4d4d4" stroke-width="1"/><ellipse cx="60.3" cy="0.8" rx="4.4" ry="13.1" fill="#b4b4b4"/></g><g transform="translate(280,817.6) rotate(-23.5)"><path d="M0,-12.2 L60.5,-12.2 A3.7,12.2 0 0 1 60.5,12.2 L0,12.2 A3.7,12.2 0 0 1 0,-12.2 Z" fill="url(#gCu)"/><path d="M0,-12.2 L60.5,-12.2 A3.7,12.2 0 0 1 60.5,12.2 L0,12.2 A3.7,12.2 0 0 1 0,-12.2 Z" fill="url(#strand)"/><ellipse cx="0" cy="0" rx="3.7" ry="12.2" fill="#b98559"/><ellipse cx="0" cy="0" rx="1.1" ry="2.7" fill="#d9a377" stroke="#7d4a28" stroke-width=".6"/><ellipse cx="0" cy="-6.7" rx="1.1" ry="2.7" fill="#d9a377" stroke="#7d4a28" stroke-width=".6"/><ellipse cx="0" cy="6.7" rx="1.1" ry="2.7" fill="#d9a377" stroke="#7d4a28" stroke-width=".6"/><ellipse cx="-1.6" cy="-3.4" rx="1.1" ry="2.7" fill="#d9a377" stroke="#7d4a28" stroke-width=".6"/><ellipse cx="1.6" cy="-3.4" rx="1.1" ry="2.7" fill="#d9a377" stroke="#7d4a28" stroke-width=".6"/><ellipse cx="-1.6" cy="3.4" rx="1.1" ry="2.7" fill="#d9a377" stroke="#7d4a28" stroke-width=".6"/><ellipse cx="1.6" cy="3.4" rx="1.1" ry="2.7" fill="#d9a377" stroke="#7d4a28" stroke-width=".6"/><ellipse cx="0" cy="-0" rx="1.1" ry="2.7" fill="#d9a377" stroke="#7d4a28" stroke-width=".6"/></g>
<path d="M338,722 C342.5,719.4 356.2,711.2 365,706.5 C373.8,701.8 379.5,698.2 391,693.5 C402.5,688.8 418.2,681.2 434,678 C449.8,674.8 470,673.7 486,674 C502,674.3 516,677 530,680 C544,683 563.3,690 570,692 L600,705 L560,715 L500,735 L470,752 L438,769 L400,788 L378,801 L377.6,791.3 L375.4,782.5 L371.1,770.8 L364.2,758.3 L356.1,745.6 L347.3,733.2 Z" fill="url(#gl9)"/><path d="M347,730.6 L348.9,729.5 L351.1,728.2 L353.4,726.9 L355.9,725.4 L358.5,724 L361,722.5 L363.6,721 L366.1,719.6 L368.5,718.3 L370.7,717 L372.9,715.9 L375,714.7 L376.9,713.7 L378.8,712.6 L380.7,711.6 L382.5,710.6 L384.4,709.7 L386.4,708.7 L388.4,707.7 L390.6,706.7 L393,705.7 L395.7,704.6 L398.6,703.3 L401.8,702 L405,700.6 L408.4,699.2 L411.8,697.8 L415.2,696.4 L418.8,695 L422.3,693.7 L425.9,692.6 L429.4,691.5 L432.9,690.5 L436.4,689.7 L440.1,689.1 L444,688.4 L448.1,687.9 L452.2,687.4 L456.5,687 L460.8,686.6 L465.1,686.4 L469.4,686.2 L473.6,686 L477.8,686 L481.9,685.9 L485.7,686 L489.4,686.1 L493,686.3 L496.6,686.6 L500.1,687 L503.5,687.4 L507,687.9 L510.4,688.4 L513.8,689 L517.2,689.6 L520.6,690.3 L524,691 L527.4,691.7 L530.8,692.5 L534.3,693.4 L537.9,694.4 L541.7,695.5 L545.4,696.6 L549.1,697.8 L549.1,697.8 L544.1,700.7 L539.8,701.7 L535.7,702.3 L531.8,702.8 L528.1,703.3 L524.7,703.8 L521.3,704.3 L517.7,704.6 L514.3,705 L510.9,705.3 L507.6,705.6 L504.3,705.9 L501.1,706.3 L497.9,706.6 L494.7,707 L491.6,707.4 L488.4,707.8 L485.2,708.3 L481.7,708.7 L478,709.2 L474.2,709.7 L470.3,710.3 L466.4,710.8 L462.5,711.4 L458.7,711.9 L454.9,712.6 L451.3,713.2 L447.8,713.8 L444.6,714.5 L441.7,715.1 L439.2,715.8 L436.5,716.5 L433.7,717.3 L430.8,718.2 L427.7,719.2 L424.6,720.3 L421.4,721.4 L418.2,722.5 L414.9,723.6 L411.5,724.8 L408.2,725.8 L405,726.8 L402.4,727.5 L400.1,728 L398.1,728.4 L396.1,728.7 L394.2,729.1 L392.3,729.4 L390.3,729.7 L388.3,730 L386.1,730.4 L383.7,730.8 L381.2,731.2 L378.6,731.6 L376,731.9 L373.3,732.3 L370.3,732.8 L367.2,733.2 L364,733.6 L360.8,733.9 L357.6,734 L354.4,733.8 L351.1,733.2 L347,730.6 Z" fill="url(#gl9p)" fill-opacity="1" filter="url(#b2)"/><ellipse cx="408" cy="745" rx="48" ry="27" transform="rotate(-20 408 745)" fill="#6c6c6c" fill-opacity="0.85" filter="url(#b8)"/><ellipse cx="470" cy="724" rx="24" ry="12" transform="rotate(-25 470 724)" fill="#d69a7c" fill-opacity="0.35" filter="url(#b4)"/><path d="M447,743 C449.2,738.7 454.8,723 460,717 C465.2,711 470.7,709.7 478,707 C485.3,704.3 499.7,702 504,701" fill="none" stroke="#d98a48" stroke-width="8" stroke-opacity="0.55" stroke-linecap="round" stroke-linejoin="round" filter="url(#b2)"/><path d="M482,707 C488.7,705.3 515.3,698.7 522,697" fill="none" stroke="#38a53e" stroke-width="7" stroke-opacity="0.6" stroke-linecap="round" stroke-linejoin="round" filter="url(#b2)"/><path d="M338,722 L339.3,721.2 L340.9,720.3 L342.9,719.2 L345,717.9 L347.4,716.5 L349.9,715.1 L352.5,713.6 L355.1,712.1 L357.7,710.6 L360.2,709.1 L362.7,707.8 L365,706.5 L367.1,705.3 L369.2,704.2 L371.2,703.1 L373.1,702.1 L375,701 L377,700 L379,699 L381.1,697.9 L383.3,696.9 L385.7,695.8 L388.2,694.7 L391,693.5 L394,692.3 L397.1,690.9 L400.3,689.5 L403.7,688.1 L407.3,686.6 L410.9,685.2 L414.6,683.8 L418.4,682.4 L422.2,681.1 L426.1,679.9 L430,678.9 L434,678 L438,677.2 L442.2,676.6 L446.6,676 L451,675.4 L455.4,675 L459.9,674.7 L464.4,674.4 L468.9,674.2 L473.4,674 L477.7,674 L481.9,673.9 L486,674 L490,674.1 L493.8,674.4 L497.7,674.7 L501.4,675 L505.1,675.5 L508.8,676 L512.4,676.6 L515.9,677.2 L519.5,677.8 L523,678.5 L526.5,679.3 L530,680 L533.6,680.8 L537.4,681.8 L541.2,682.9 L545.1,684 L549,685.2 L552.8,686.4 L556.4,687.5 L559.8,688.7 L562.9,689.7 L565.7,690.6 L568.1,691.4 L570,692 L567.9,698.9 L565.9,698.3 L563.4,697.6 L560.6,696.7 L557.4,695.8 L554,694.7 L550.4,693.6 L546.7,692.5 L542.9,691.4 L539.1,690.4 L535.3,689.4 L531.7,688.6 L528.3,687.8 L524.8,687.2 L521.4,686.5 L517.9,685.9 L514.5,685.3 L511,684.8 L507.5,684.3 L504,683.9 L500.5,683.5 L496.9,683.3 L493.3,683 L489.6,682.9 L485.8,682.8 L481.9,682.9 L477.8,682.9 L473.6,683.1 L469.3,683.3 L464.9,683.5 L460.6,683.9 L456.2,684.3 L452,684.8 L447.7,685.3 L443.6,686 L439.7,686.7 L436,687.5 L432.4,688.3 L428.8,689.4 L425.2,690.5 L421.6,691.8 L418,693 L414.5,694.4 L411,695.8 L407.5,697.2 L404.2,698.6 L400.9,700 L397.8,701.3 L394.8,702.5 L392.1,703.6 L389.7,704.7 L387.5,705.7 L385.4,706.7 L383.4,707.6 L381.5,708.6 L379.6,709.6 L377.7,710.6 L375.8,711.6 L373.8,712.7 L371.8,713.8 L369.6,715 L367.3,716.2 L364.9,717.5 L362.4,718.9 L359.8,720.3 L357.2,721.8 L354.7,723.3 L352.2,724.7 L349.8,726.1 L347.7,727.3 L345.7,728.5 L344.1,729.4 L342.7,730.2 Z" fill="#fdfdfd" filter="url(#b1)"/><path d="M338,722 L339.3,721.2 L340.9,720.3 L342.9,719.2 L345,717.9 L347.4,716.5 L349.9,715.1 L352.5,713.6 L355.1,712.1 L357.7,710.6 L360.2,709.1 L362.7,707.8 L365,706.5 L367.1,705.3 L369.2,704.2 L371.2,703.1 L373.1,702.1 L375,701 L377,700 L379,699 L381.1,697.9 L383.3,696.9 L385.7,695.8 L388.2,694.7 L391,693.5 L394,692.3 L397.1,690.9 L400.3,689.5 L403.7,688.1 L407.3,686.6 L410.9,685.2 L414.6,683.8 L418.4,682.4 L422.2,681.1 L426.1,679.9 L430,678.9 L434,678 L438,677.2 L442.2,676.6 L446.6,676 L451,675.4 L455.4,675 L459.9,674.7 L464.4,674.4 L468.9,674.2 L473.4,674 L477.7,674 L481.9,673.9 L486,674 L490,674.1 L493.8,674.4 L497.7,674.7 L501.4,675 L505.1,675.5 L508.8,676 L512.4,676.6 L515.9,677.2 L519.5,677.8 L523,678.5 L526.5,679.3 L530,680 L533.6,680.8 L537.4,681.8 L541.2,682.9 L545.1,684 L549,685.2 L552.8,686.4 L556.4,687.5 L559.8,688.7 L562.9,689.7 L565.7,690.6 L568.1,691.4 L570,692" fill="none" stroke="#a6a6a6" stroke-width="0.8" stroke-opacity=".75"/><path d="M345.8,719.7 L346.7,720.9 L348,722.5 L349.6,724.5 L351.3,726.6 L353,728.8 L354.6,730.8 L356,732.8 L357.4,734.9 L358.8,736.9 L360.2,739 L361.6,741.1 L363,743.2 L364.3,745.3 L365.6,747.5 L366.9,749.6 L368.2,751.7 L369.5,753.9 L370.7,756 L371.8,758.1 L373,760.2 L374.1,762.3 L375.2,764.3 L376.2,766.4 L377.1,768.4 L377.9,770.4 L378.6,772.5 L379.3,774.5 L379.9,776.5 L380.4,778.4 L380.9,780.1 L381.3,781.8 L381.6,783.3 L381.6,784.8 L381.6,786.3 L381.6,787.9 L381.6,789.4 L381.4,791.2 L381.3,793.2 L381,795.2 L380.8,797.1 L380.6,798.6 L380.3,799.8" fill="none" stroke="#d8d8d8" stroke-width="9" stroke-opacity=".55" filter="url(#b2)"/><path d="M338,722 L339,723.2 L340.4,724.9 L342.1,726.8 L343.9,729 L345.6,731.1 L347.3,733.2 L348.8,735.2 L350.3,737.2 L351.8,739.3 L353.2,741.4 L354.7,743.5 L356.1,745.6 L357.5,747.7 L358.9,749.8 L360.3,752 L361.7,754.1 L363,756.2 L364.2,758.3 L365.5,760.4 L366.7,762.5 L367.9,764.6 L369,766.7 L370.1,768.7 L371.1,770.8 L372,772.8 L372.8,774.8 L373.5,776.8 L374.2,778.8 L374.8,780.7 L375.4,782.5 L375.9,784.1 L376.3,785.6 L376.7,787 L377,788.4 L377.3,789.8 L377.6,791.3 L377.7,793 L377.9,794.8 L377.9,796.7 L378,798.4 L378,799.9 L378,801 L380.3,799.8 L380.6,798.6 L380.8,797.1 L381,795.2 L381.3,793.2 L381.4,791.2 L381.6,789.4 L381.6,787.9 L381.6,786.3 L381.6,784.8 L381.6,783.3 L381.3,781.8 L380.9,780.1 L380.4,778.4 L379.9,776.5 L379.3,774.5 L378.6,772.5 L377.9,770.4 L377.1,768.4 L376.2,766.4 L375.2,764.3 L374.1,762.3 L373,760.2 L371.8,758.1 L370.7,756 L369.5,753.9 L368.2,751.7 L366.9,749.6 L365.6,747.5 L364.3,745.3 L363,743.2 L361.6,741.1 L360.2,739 L358.8,736.9 L357.4,734.9 L356,732.8 L354.6,730.8 L353,728.8 L351.3,726.6 L349.6,724.5 L348,722.5 L346.7,720.9 L345.8,719.7 Z" fill="url(#gb2)"/><path d="M338,722 L339,723.2 L340.4,724.9 L342.1,726.8 L343.9,729 L345.6,731.1 L347.3,733.2 L348.8,735.2 L350.3,737.2 L351.8,739.3 L353.2,741.4 L354.7,743.5 L356.1,745.6 L357.5,747.7 L358.9,749.8 L360.3,752 L361.7,754.1 L363,756.2 L364.2,758.3 L365.5,760.4 L366.7,762.5 L367.9,764.6 L369,766.7 L370.1,768.7 L371.1,770.8 L372,772.8 L372.8,774.8 L373.5,776.8 L374.2,778.8 L374.8,780.7 L375.4,782.5 L375.9,784.1 L376.3,785.6 L376.7,787 L377,788.4 L377.3,789.8 L377.6,791.3 L377.7,793 L377.9,794.8 L377.9,796.7 L378,798.4 L378,799.9 L378,801" fill="none" stroke="#ffffff" stroke-width="1.4"/><path d="M374.1,762.3 L375.2,764.3 L376.2,766.4 L377.1,768.4 L377.9,770.4 L378.6,772.5 L379.3,774.5 L379.9,776.5 L380.4,778.4 L380.9,780.1 L381.3,781.8 L381.6,783.3 L381.6,784.8 L381.6,786.3 L381.6,787.9 L381.6,789.4 L381.4,791.2 L381.3,793.2 L381,795.2 L380.8,797.1 L380.6,798.6 L380.3,799.8" fill="none" stroke="#8c8c8c" stroke-width="1" stroke-opacity=".8"/>
<path d="M716,628 C719.7,624 730.3,611.3 738,604 C745.7,596.7 753.3,588.6 762,584 C770.7,579.4 781.7,578.2 790,576.5 C798.3,574.8 806.4,574.4 812,574 C817.6,573.6 820.9,573.6 823.6,574 C826.2,574.5 826.6,575.5 828,576.5 C829.5,577.6 831,578.8 832.4,580.2 C833.8,581.6 835.2,583.2 836.5,584.9 C837.8,586.6 839,588.4 840.2,590.4 C841.3,592.3 842.3,594.4 843.2,596.5 C844.1,598.6 844.9,600.8 845.6,602.9 C846.2,605.1 846.8,607.3 847.1,609.5 C847.5,611.7 847.8,613.9 847.8,615.9 C847.9,618 847.8,620 847.6,621.9 C847.4,623.8 846.7,626.4 846.5,627.3 L870,680 L760,690 Z" fill="url(#gl10)"/><path d="M742.9,609 L744.8,607.2 L746.7,605.3 L748.6,603.5 L750.5,601.7 L752.4,599.9 L754.3,598.2 L756.1,596.6 L758,595.1 L759.8,593.7 L761.7,592.4 L763.5,591.2 L765.3,590.2 L767.1,589.3 L769,588.5 L771.1,587.8 L773.2,587.1 L775.4,586.5 L777.7,586 L780,585.5 L782.3,585 L784.6,584.6 L786.9,584.2 L789.2,583.8 L791.3,583.4 L793.3,583 L795.3,582.7 L797.3,582.4 L799.4,582.2 L801.4,581.9 L803.4,581.8 L805.3,581.6 L807.1,581.4 L808.7,581.3 L810.2,581.2 L811.6,581.1 L812.7,581 L812.7,581 L812.2,587.5 L811,591 L809.7,593.7 L808.2,596.1 L806.7,598.2 L805.1,600.1 L803.4,601.9 L801.8,603.5 L800.3,605 L798.8,606.3 L797.5,607.5 L796.1,608.6 L794,609.7 L791.7,610.7 L789.5,611.6 L787.5,612.3 L785.6,612.9 L783.8,613.3 L782.3,613.6 L780.9,613.8 L779.7,613.8 L778.7,613.7 L777.9,613.4 L777.2,612.9 L776.3,612.5 L775,612.2 L773.3,612 L771.3,611.9 L769.1,611.9 L766.5,612 L763.7,612.2 L760.6,612.4 L757.2,612.4 L753.5,612.4 L749.3,611.8 L742.9,609 Z" fill="url(#gl10p)" fill-opacity="1" filter="url(#b2)"/><path d="M818.6,576 C819.3,576.5 821.6,577.5 823,578.5 C824.5,579.6 826,580.8 827.4,582.2 C828.8,583.6 830.2,585.2 831.5,586.9 C832.8,588.6 834,590.4 835.2,592.4 C836.3,594.3 837.3,596.4 838.2,598.5 C839.1,600.6 839.9,602.8 840.6,604.9 C841.2,607.1 841.8,609.3 842.1,611.5 C842.5,613.7 842.8,615.9 842.8,617.9 C842.9,620 842.8,622 842.6,623.9 C842.4,625.8 841.7,628.4 841.5,629.3" fill="none" stroke="#000" stroke-opacity=".6" stroke-width="13" filter="url(#b4)"/><path d="M823.6,574 C824.3,574.5 826.6,575.5 828,576.5 C829.5,577.6 831,578.8 832.4,580.2 C833.8,581.6 835.2,583.2 836.5,584.9 C837.8,586.6 839,588.4 840.2,590.4 C841.3,592.3 842.3,594.4 843.2,596.5 C844.1,598.6 844.9,600.8 845.6,602.9 C846.2,605.1 846.8,607.3 847.1,609.5 C847.5,611.7 847.8,613.9 847.8,615.9 C847.9,618 847.8,620 847.6,621.9 C847.4,623.8 846.7,626.4 846.5,627.3" fill="none" stroke="#0d0d0d" stroke-width="3" filter="url(#b1)"/><path d="M716,628 L717.1,626.8 L718.4,625.3 L719.9,623.6 L721.6,621.6 L723.5,619.5 L725.5,617.2 L727.6,614.9 L729.7,612.6 L731.8,610.3 L734,608 L736,605.9 L738,604 L739.9,602.2 L741.8,600.3 L743.8,598.4 L745.7,596.6 L747.7,594.8 L749.6,593 L751.6,591.2 L753.6,589.6 L755.7,588 L757.7,586.6 L759.9,585.2 L762,584 L764.2,582.9 L766.5,582 L768.9,581.1 L771.3,580.4 L773.7,579.7 L776.1,579.2 L778.6,578.6 L781,578.2 L783.3,577.7 L785.6,577.3 L787.9,576.9 L790,576.5 L792.1,576.1 L794.3,575.8 L796.4,575.5 L798.6,575.2 L800.7,575 L802.8,574.8 L804.7,574.6 L806.5,574.5 L808.2,574.3 L809.7,574.2 L811,574.1 L812,574 L812.3,577.3 L811.3,577.5 L810,577.7 L808.5,577.9 L806.8,578.2 L805,578.4 L803.1,578.7 L801.1,579 L799.1,579.3 L797,579.7 L794.9,580 L792.9,580.5 L790.8,580.9 L788.7,581.5 L786.5,582 L784.2,582.5 L781.9,583 L779.6,583.6 L777.3,584.2 L775,584.8 L772.7,585.5 L770.6,586.3 L768.5,587.1 L766.5,588.1 L764.7,589.1 L762.9,590.2 L761.1,591.5 L759.3,593 L757.6,594.6 L755.9,596.3 L754.1,598.1 L752.4,599.9 L750.7,601.8 L748.9,603.8 L747.2,605.8 L745.4,607.8 L743.7,609.8 L741.9,611.8 L740.1,614 L738.3,616.3 L736.4,618.7 L734.4,621.1 L732.6,623.5 L730.8,625.9 L729.1,628.2 L727.5,630.3 L726.1,632.2 L725,633.9 L724,635.2 Z" fill="#fdfdfd" filter="url(#b1)"/><path d="M716,628 L717.1,626.8 L718.4,625.3 L719.9,623.6 L721.6,621.6 L723.5,619.5 L725.5,617.2 L727.6,614.9 L729.7,612.6 L731.8,610.3 L734,608 L736,605.9 L738,604 L739.9,602.2 L741.8,600.3 L743.8,598.4 L745.7,596.6 L747.7,594.8 L749.6,593 L751.6,591.2 L753.6,589.6 L755.7,588 L757.7,586.6 L759.9,585.2 L762,584 L764.2,582.9 L766.5,582 L768.9,581.1 L771.3,580.4 L773.7,579.7 L776.1,579.2 L778.6,578.6 L781,578.2 L783.3,577.7 L785.6,577.3 L787.9,576.9 L790,576.5 L792.1,576.1 L794.3,575.8 L796.4,575.5 L798.6,575.2 L800.7,575 L802.8,574.8 L804.7,574.6 L806.5,574.5 L808.2,574.3 L809.7,574.2 L811,574.1 L812,574" fill="none" stroke="#a6a6a6" stroke-width="0.8" stroke-opacity=".75"/>
<g transform="translate(445,757) rotate(-25)"><path d="M54.5,-21.3 L165,-21.3 L165,21.3 L54.5,21.3 A7.2,21.3 0 0 1 54.5,-21.3 Z" fill="url(#gGreen)"/><ellipse cx="54.5" cy="0" rx="7.2" ry="21.3" fill="#4fc455"/><ellipse cx="55.4" cy="0.9" rx="4.8" ry="14.1" fill="#1b7a26"/></g><g transform="translate(445,757) rotate(-25)"><path d="M0,-12.2 L55.5,-12.2 A3.7,12.2 0 0 1 55.5,12.2 L0,12.2 A3.7,12.2 0 0 1 0,-12.2 Z" fill="url(#gCu)"/><path d="M0,-12.2 L55.5,-12.2 A3.7,12.2 0 0 1 55.5,12.2 L0,12.2 A3.7,12.2 0 0 1 0,-12.2 Z" fill="url(#strand)"/><ellipse cx="0" cy="0" rx="3.7" ry="12.2" fill="#b98559"/><ellipse cx="0" cy="0" rx="1.1" ry="2.7" fill="#d9a377" stroke="#7d4a28" stroke-width=".6"/><ellipse cx="0" cy="-6.7" rx="1.1" ry="2.7" fill="#d9a377" stroke="#7d4a28" stroke-width=".6"/><ellipse cx="0" cy="6.7" rx="1.1" ry="2.7" fill="#d9a377" stroke="#7d4a28" stroke-width=".6"/><ellipse cx="-1.6" cy="-3.4" rx="1.1" ry="2.7" fill="#d9a377" stroke="#7d4a28" stroke-width=".6"/><ellipse cx="1.6" cy="-3.4" rx="1.1" ry="2.7" fill="#d9a377" stroke="#7d4a28" stroke-width=".6"/><ellipse cx="-1.6" cy="3.4" rx="1.1" ry="2.7" fill="#d9a377" stroke="#7d4a28" stroke-width=".6"/><ellipse cx="1.6" cy="3.4" rx="1.1" ry="2.7" fill="#d9a377" stroke="#7d4a28" stroke-width=".6"/><ellipse cx="0" cy="-0" rx="1.1" ry="2.7" fill="#d9a377" stroke="#7d4a28" stroke-width=".6"/></g><g transform="translate(528,735) rotate(-22.2)"><rect x="-3" y="-3" width="85.1" height="13" fill="#000" fill-opacity=".35" filter="url(#b1)"/></g><g transform="translate(528,735) rotate(-22.2)"><path d="M0,-5 L82.1,-5 L82.1,5 L0,5 A2,5 0 0 1 0,-5 Z" fill="url(#gCu)"/><path d="M0,-5 L82.1,-5 L82.1,5 L0,5 A2,5 0 0 1 0,-5 Z" fill="url(#strand)"/><ellipse cx="0" cy="0" rx="2" ry="5" fill="#b98559"/><ellipse cx="0" cy="0" rx="0.6" ry="1.1" fill="#d9a377" stroke="#7d4a28" stroke-width=".6"/><ellipse cx="0" cy="-2.8" rx="0.6" ry="1.1" fill="#d9a377" stroke="#7d4a28" stroke-width=".6"/><ellipse cx="0" cy="2.8" rx="0.6" ry="1.1" fill="#d9a377" stroke="#7d4a28" stroke-width=".6"/><ellipse cx="-0.9" cy="-1.4" rx="0.6" ry="1.1" fill="#d9a377" stroke="#7d4a28" stroke-width=".6"/><ellipse cx="0.9" cy="-1.4" rx="0.6" ry="1.1" fill="#d9a377" stroke="#7d4a28" stroke-width=".6"/><ellipse cx="-0.9" cy="1.4" rx="0.6" ry="1.1" fill="#d9a377" stroke="#7d4a28" stroke-width=".6"/><ellipse cx="0.9" cy="1.4" rx="0.6" ry="1.1" fill="#d9a377" stroke="#7d4a28" stroke-width=".6"/><ellipse cx="0" cy="-0" rx="0.6" ry="1.1" fill="#d9a377" stroke="#7d4a28" stroke-width=".6"/></g><g transform="translate(521,768.7) rotate(-23.4)"><path d="M56,-19.8 L115,-19.8 L115,19.8 L56,19.8 A6.7,19.8 0 0 1 56,-19.8 Z" fill="url(#gWhite)"/><ellipse cx="56" cy="0" rx="6.7" ry="19.8" fill="#f6f6f6" stroke="#d4d4d4" stroke-width="1"/><ellipse cx="56.8" cy="0.8" rx="4.4" ry="13.1" fill="#b4b4b4"/></g><g transform="translate(521,768.7) rotate(-23.4)"><path d="M0,-12.2 L57,-12.2 A3.7,12.2 0 0 1 57,12.2 L0,12.2 A3.7,12.2 0 0 1 0,-12.2 Z" fill="url(#gCu)"/><path d="M0,-12.2 L57,-12.2 A3.7,12.2 0 0 1 57,12.2 L0,12.2 A3.7,12.2 0 0 1 0,-12.2 Z" fill="url(#strand)"/><ellipse cx="0" cy="0" rx="3.7" ry="12.2" fill="#b98559"/><ellipse cx="0" cy="0" rx="1.1" ry="2.7" fill="#d9a377" stroke="#7d4a28" stroke-width=".6"/><ellipse cx="0" cy="-6.7" rx="1.1" ry="2.7" fill="#d9a377" stroke="#7d4a28" stroke-width=".6"/><ellipse cx="0" cy="6.7" rx="1.1" ry="2.7" fill="#d9a377" stroke="#7d4a28" stroke-width=".6"/><ellipse cx="-1.6" cy="-3.4" rx="1.1" ry="2.7" fill="#d9a377" stroke="#7d4a28" stroke-width=".6"/><ellipse cx="1.6" cy="-3.4" rx="1.1" ry="2.7" fill="#d9a377" stroke="#7d4a28" stroke-width=".6"/><ellipse cx="-1.6" cy="3.4" rx="1.1" ry="2.7" fill="#d9a377" stroke="#7d4a28" stroke-width=".6"/><ellipse cx="1.6" cy="3.4" rx="1.1" ry="2.7" fill="#d9a377" stroke="#7d4a28" stroke-width=".6"/><ellipse cx="0" cy="-0" rx="1.1" ry="2.7" fill="#d9a377" stroke="#7d4a28" stroke-width=".6"/></g>
<path d="M575,675 C578.5,672.3 586,664.2 596,659 C606,653.8 623.5,647.2 635,643.5 C646.5,639.8 654.2,639.2 665,637 C675.8,634.8 689.2,631.4 700,630 C710.8,628.6 716.2,628 730,628.7 C743.8,629.4 768,631.3 783,634 C798,636.7 813.8,643.2 820,645 L840,686 L760,705 L680,725 L640,741 L615,754 L614.6,744.3 L612.4,735.5 L608.1,723.8 L601.2,711.3 L593.1,698.6 L584.3,686.2 Z" fill="url(#gl11)"/><path d="M585,682.3 L586.4,681.1 L587.8,679.8 L589.2,678.5 L590.8,677.1 L592.4,675.8 L594.1,674.4 L595.9,673.1 L597.8,671.9 L599.7,670.7 L601.6,669.6 L603.9,668.4 L606.6,667.2 L609.5,665.9 L612.6,664.5 L615.9,663.2 L619.3,661.8 L622.7,660.5 L626.1,659.2 L629.5,658 L632.7,656.9 L635.8,655.9 L638.6,654.9 L641.2,654.2 L643.6,653.5 L645.8,652.9 L648.1,652.4 L650.3,651.9 L652.5,651.5 L654.7,651.1 L657,650.7 L659.5,650.3 L662,649.8 L664.6,649.3 L667.4,648.8 L670.3,648.1 L673.2,647.5 L676.1,646.9 L679.1,646.2 L682,645.6 L685,644.9 L687.9,644.3 L690.8,643.7 L693.7,643.2 L696.4,642.7 L699,642.3 L701.6,641.9 L704.1,641.6 L706.4,641.3 L708.6,641.1 L710.6,640.9 L712.6,640.7 L714.5,640.6 L716.5,640.5 L718.6,640.4 L720.9,640.4 L723.5,640.5 L726.3,640.6 L729.4,640.7 L733,640.9 L736.9,641.1 L741.2,641.4 L745.6,641.7 L750.2,642.1 L754.9,642.5 L759.7,643 L764.3,643.5 L768.8,644 L773.2,644.6 L777.2,645.2 L777.2,645.2 L772.6,648.9 L768,650.6 L763.4,651.9 L758.6,653 L753.9,653.9 L749.1,654.8 L744.5,655.6 L740.1,656.4 L735.9,657.2 L732,657.9 L728.6,658.7 L725.6,659.4 L723,660.2 L720.8,660.9 L718.9,661.7 L717.2,662.4 L715.7,663.1 L714.3,663.8 L712.8,664.5 L711.1,665.2 L709.3,665.9 L707.2,666.6 L705,667.4 L702.9,668 L700.8,668.7 L698.5,669.5 L696.1,670.2 L693.5,671 L690.8,671.8 L688,672.6 L685.1,673.3 L682.2,674.1 L679.2,674.8 L676.2,675.5 L673.1,676.2 L670,676.8 L667,677.2 L664.3,677.6 L661.8,677.9 L659.6,678.1 L657.5,678.3 L655.6,678.4 L653.8,678.5 L652.1,678.6 L650.3,678.7 L648.4,678.8 L646.2,679 L643.6,679.4 L640.6,679.9 L637.5,680.4 L634.1,681 L630.7,681.6 L627.3,682.3 L623.9,682.9 L620.6,683.4 L617.4,683.9 L614.5,684.4 L611.8,684.6 L609.6,684.7 L607.8,684.6 L606,684.5 L604,684.5 L601.9,684.6 L599.6,684.7 L597.3,684.8 L594.8,684.9 L592.2,684.8 L589.3,684.3 L585,682.3 Z" fill="url(#gl11p)" fill-opacity="1" filter="url(#b2)"/><ellipse cx="655" cy="692" rx="52" ry="24" transform="rotate(-18 655 692)" fill="#686868" fill-opacity="0.8" filter="url(#b8)"/><path d="M646,725 C649,718.5 659.2,695.5 664,686 C668.8,676.5 669.7,671.9 675,668 C680.3,664.1 687.3,664.6 696,662.6 C704.7,660.6 719.3,657.1 727,656 C734.7,654.9 739.5,656 742,656" fill="none" stroke="#e08a2a" stroke-width="9" stroke-opacity="0.8" stroke-linecap="round" stroke-linejoin="round" filter="url(#b2)"/><path d="M678,668 C681.7,669.7 698,672.7 700,678 C702,683.3 691.7,696.3 690,700" fill="none" stroke="#e08a2a" stroke-width="8" stroke-opacity="0.35" stroke-linecap="round" stroke-linejoin="round" filter="url(#b4)"/><path d="M575,675 L576,674.2 L577.1,673.3 L578.4,672.1 L579.8,670.8 L581.3,669.4 L583.1,668 L584.9,666.4 L586.9,664.9 L589,663.3 L591.2,661.8 L593.6,660.4 L596,659 L598.6,657.7 L601.6,656.3 L604.7,654.9 L608,653.5 L611.4,652.1 L614.9,650.7 L618.5,649.3 L622,648 L625.5,646.7 L628.8,645.6 L632,644.5 L635,643.5 L637.8,642.6 L640.5,641.9 L643,641.3 L645.5,640.7 L647.9,640.2 L650.2,639.7 L652.6,639.3 L655,638.9 L657.4,638.4 L659.8,638 L662.4,637.5 L665,637 L667.8,636.4 L670.6,635.8 L673.5,635.2 L676.5,634.5 L679.5,633.8 L682.5,633.2 L685.5,632.5 L688.5,631.9 L691.5,631.4 L694.4,630.8 L697.2,630.4 L700,630 L702.6,629.7 L705,629.4 L707.3,629.1 L709.5,628.9 L711.7,628.7 L713.9,628.6 L716.1,628.5 L718.5,628.4 L721,628.4 L723.7,628.5 L726.7,628.6 L730,628.7 L733.7,628.9 L737.7,629.1 L742,629.4 L746.6,629.8 L751.3,630.2 L756.1,630.6 L760.9,631.1 L765.7,631.6 L770.3,632.1 L774.8,632.7 L779.1,633.3 L783,634 L786.8,634.8 L790.5,635.6 L794.2,636.6 L797.9,637.7 L801.4,638.7 L804.8,639.8 L808,640.9 L811,641.9 L813.7,642.9 L816.2,643.7 L818.3,644.5 L820,645 L817.8,651.9 L816,651.3 L813.8,650.7 L811.3,649.9 L808.6,649 L805.6,648 L802.5,647 L799.1,646 L795.7,645 L792.2,644.1 L788.6,643.2 L785.1,642.4 L781.6,641.8 L777.8,641.2 L773.7,640.7 L769.3,640.1 L764.8,639.7 L760,639.2 L755.3,638.8 L750.6,638.4 L745.9,638.1 L741.4,637.8 L737.1,637.6 L733.2,637.4 L729.6,637.3 L726.4,637.2 L723.5,637.2 L720.9,637.2 L718.6,637.3 L716.4,637.4 L714.3,637.5 L712.3,637.7 L710.3,637.9 L708.3,638.2 L706.1,638.5 L703.7,638.8 L701.2,639.2 L698.6,639.6 L696,640.1 L693.2,640.7 L690.4,641.3 L687.5,641.9 L684.5,642.6 L681.6,643.3 L678.6,644 L675.6,644.7 L672.7,645.5 L669.8,646.1 L667,646.7 L664.2,647.2 L661.6,647.7 L659.1,648.1 L656.7,648.6 L654.3,649 L652.1,649.4 L649.8,649.8 L647.6,650.2 L645.3,650.8 L643,651.3 L640.5,652 L637.9,652.8 L635.1,653.7 L632,654.7 L628.7,655.9 L625.3,657.1 L621.9,658.3 L618.5,659.7 L615,661 L611.7,662.4 L608.6,663.7 L605.6,665 L602.9,666.3 L600.5,667.5 L598.4,668.6 L596.4,669.8 L594.5,671.1 L592.7,672.5 L590.9,673.9 L589.2,675.2 L587.6,676.6 L586.1,677.9 L584.7,679.2 L583.3,680.4 L582,681.5 L580.9,682.3 Z" fill="#fdfdfd" filter="url(#b1)"/><path d="M575,675 L576,674.2 L577.1,673.3 L578.4,672.1 L579.8,670.8 L581.3,669.4 L583.1,668 L584.9,666.4 L586.9,664.9 L589,663.3 L591.2,661.8 L593.6,660.4 L596,659 L598.6,657.7 L601.6,656.3 L604.7,654.9 L608,653.5 L611.4,652.1 L614.9,650.7 L618.5,649.3 L622,648 L625.5,646.7 L628.8,645.6 L632,644.5 L635,643.5 L637.8,642.6 L640.5,641.9 L643,641.3 L645.5,640.7 L647.9,640.2 L650.2,639.7 L652.6,639.3 L655,638.9 L657.4,638.4 L659.8,638 L662.4,637.5 L665,637 L667.8,636.4 L670.6,635.8 L673.5,635.2 L676.5,634.5 L679.5,633.8 L682.5,633.2 L685.5,632.5 L688.5,631.9 L691.5,631.4 L694.4,630.8 L697.2,630.4 L700,630 L702.6,629.7 L705,629.4 L707.3,629.1 L709.5,628.9 L711.7,628.7 L713.9,628.6 L716.1,628.5 L718.5,628.4 L721,628.4 L723.7,628.5 L726.7,628.6 L730,628.7 L733.7,628.9 L737.7,629.1 L742,629.4 L746.6,629.8 L751.3,630.2 L756.1,630.6 L760.9,631.1 L765.7,631.6 L770.3,632.1 L774.8,632.7 L779.1,633.3 L783,634 L786.8,634.8 L790.5,635.6 L794.2,636.6 L797.9,637.7 L801.4,638.7 L804.8,639.8 L808,640.9 L811,641.9 L813.7,642.9 L816.2,643.7 L818.3,644.5 L820,645" fill="none" stroke="#a6a6a6" stroke-width="0.8" stroke-opacity=".75"/><path d="M582.8,672.7 L583.7,673.9 L585,675.5 L586.6,677.5 L588.3,679.6 L590,681.8 L591.6,683.8 L593,685.8 L594.4,687.9 L595.8,689.9 L597.2,692 L598.6,694.1 L600,696.2 L601.3,698.3 L602.6,700.5 L603.9,702.6 L605.2,704.7 L606.5,706.9 L607.7,709 L608.8,711.1 L610,713.2 L611.1,715.3 L612.2,717.3 L613.2,719.4 L614.1,721.4 L614.9,723.4 L615.6,725.5 L616.3,727.5 L616.9,729.5 L617.4,731.4 L617.9,733.1 L618.3,734.8 L618.6,736.3 L618.6,737.8 L618.6,739.3 L618.6,740.9 L618.6,742.4 L618.4,744.2 L618.3,746.2 L618,748.2 L617.8,750.1 L617.6,751.6 L617.3,752.8" fill="none" stroke="#d8d8d8" stroke-width="9" stroke-opacity=".55" filter="url(#b2)"/><path d="M575,675 L576,676.2 L577.4,677.9 L579.1,679.8 L580.9,682 L582.6,684.1 L584.3,686.2 L585.8,688.2 L587.3,690.2 L588.8,692.3 L590.2,694.4 L591.7,696.5 L593.1,698.6 L594.5,700.7 L595.9,702.8 L597.3,705 L598.7,707.1 L600,709.2 L601.2,711.3 L602.5,713.4 L603.7,715.5 L604.9,717.6 L606,719.7 L607.1,721.7 L608.1,723.8 L609,725.8 L609.8,727.8 L610.5,729.8 L611.2,731.8 L611.8,733.7 L612.4,735.5 L612.9,737.1 L613.3,738.6 L613.7,740 L614,741.4 L614.3,742.8 L614.6,744.3 L614.7,746 L614.9,747.8 L614.9,749.7 L615,751.4 L615,752.9 L615,754 L617.3,752.8 L617.6,751.6 L617.8,750.1 L618,748.2 L618.3,746.2 L618.4,744.2 L618.6,742.4 L618.6,740.9 L618.6,739.3 L618.6,737.8 L618.6,736.3 L618.3,734.8 L617.9,733.1 L617.4,731.4 L616.9,729.5 L616.3,727.5 L615.6,725.5 L614.9,723.4 L614.1,721.4 L613.2,719.4 L612.2,717.3 L611.1,715.3 L610,713.2 L608.8,711.1 L607.7,709 L606.5,706.9 L605.2,704.7 L603.9,702.6 L602.6,700.5 L601.3,698.3 L600,696.2 L598.6,694.1 L597.2,692 L595.8,689.9 L594.4,687.9 L593,685.8 L591.6,683.8 L590,681.8 L588.3,679.6 L586.6,677.5 L585,675.5 L583.7,673.9 L582.8,672.7 Z" fill="url(#gb3)"/><path d="M575,675 L576,676.2 L577.4,677.9 L579.1,679.8 L580.9,682 L582.6,684.1 L584.3,686.2 L585.8,688.2 L587.3,690.2 L588.8,692.3 L590.2,694.4 L591.7,696.5 L593.1,698.6 L594.5,700.7 L595.9,702.8 L597.3,705 L598.7,707.1 L600,709.2 L601.2,711.3 L602.5,713.4 L603.7,715.5 L604.9,717.6 L606,719.7 L607.1,721.7 L608.1,723.8 L609,725.8 L609.8,727.8 L610.5,729.8 L611.2,731.8 L611.8,733.7 L612.4,735.5 L612.9,737.1 L613.3,738.6 L613.7,740 L614,741.4 L614.3,742.8 L614.6,744.3 L614.7,746 L614.9,747.8 L614.9,749.7 L615,751.4 L615,752.9 L615,754" fill="none" stroke="#ffffff" stroke-width="1.4"/><path d="M611.1,715.3 L612.2,717.3 L613.2,719.4 L614.1,721.4 L614.9,723.4 L615.6,725.5 L616.3,727.5 L616.9,729.5 L617.4,731.4 L617.9,733.1 L618.3,734.8 L618.6,736.3 L618.6,737.8 L618.6,739.3 L618.6,740.9 L618.6,742.4 L618.4,744.2 L618.3,746.2 L618,748.2 L617.8,750.1 L617.6,751.6 L617.3,752.8" fill="none" stroke="#8c8c8c" stroke-width="1" stroke-opacity=".8"/>
<g transform="translate(633.4,742.2) rotate(-25.5)"><path d="M55,-21.3 L160,-21.3 L160,21.3 L55,21.3 A7.2,21.3 0 0 1 55,-21.3 Z" fill="url(#gOrange)"/><ellipse cx="55" cy="0" rx="7.2" ry="21.3" fill="#f3ae55"/><ellipse cx="55.9" cy="0.9" rx="4.8" ry="14.1" fill="#b56c12"/></g><g transform="translate(633.4,742.2) rotate(-25.5)"><path d="M0,-12.2 L56,-12.2 A3.7,12.2 0 0 1 56,12.2 L0,12.2 A3.7,12.2 0 0 1 0,-12.2 Z" fill="url(#gCu)"/><path d="M0,-12.2 L56,-12.2 A3.7,12.2 0 0 1 56,12.2 L0,12.2 A3.7,12.2 0 0 1 0,-12.2 Z" fill="url(#strand)"/><ellipse cx="0" cy="0" rx="3.7" ry="12.2" fill="#b98559"/><ellipse cx="0" cy="0" rx="1.1" ry="2.7" fill="#d9a377" stroke="#7d4a28" stroke-width=".6"/><ellipse cx="0" cy="-6.7" rx="1.1" ry="2.7" fill="#d9a377" stroke="#7d4a28" stroke-width=".6"/><ellipse cx="0" cy="6.7" rx="1.1" ry="2.7" fill="#d9a377" stroke="#7d4a28" stroke-width=".6"/><ellipse cx="-1.6" cy="-3.4" rx="1.1" ry="2.7" fill="#d9a377" stroke="#7d4a28" stroke-width=".6"/><ellipse cx="1.6" cy="-3.4" rx="1.1" ry="2.7" fill="#d9a377" stroke="#7d4a28" stroke-width=".6"/><ellipse cx="-1.6" cy="3.4" rx="1.1" ry="2.7" fill="#d9a377" stroke="#7d4a28" stroke-width=".6"/><ellipse cx="1.6" cy="3.4" rx="1.1" ry="2.7" fill="#d9a377" stroke="#7d4a28" stroke-width=".6"/><ellipse cx="0" cy="-0" rx="1.1" ry="2.7" fill="#d9a377" stroke="#7d4a28" stroke-width=".6"/></g><g transform="translate(711,703) rotate(-21.7)"><rect x="-3" y="-3" width="88" height="13" fill="#000" fill-opacity=".35" filter="url(#b1)"/></g><g transform="translate(711,703) rotate(-21.7)"><path d="M0,-5 L85,-5 L85,5 L0,5 A2,5 0 0 1 0,-5 Z" fill="url(#gCu)"/><path d="M0,-5 L85,-5 L85,5 L0,5 A2,5 0 0 1 0,-5 Z" fill="url(#strand)"/><ellipse cx="0" cy="0" rx="2" ry="5" fill="#b98559"/><ellipse cx="0" cy="0" rx="0.6" ry="1.1" fill="#d9a377" stroke="#7d4a28" stroke-width=".6"/><ellipse cx="0" cy="-2.8" rx="0.6" ry="1.1" fill="#d9a377" stroke="#7d4a28" stroke-width=".6"/><ellipse cx="0" cy="2.8" rx="0.6" ry="1.1" fill="#d9a377" stroke="#7d4a28" stroke-width=".6"/><ellipse cx="-0.9" cy="-1.4" rx="0.6" ry="1.1" fill="#d9a377" stroke="#7d4a28" stroke-width=".6"/><ellipse cx="0.9" cy="-1.4" rx="0.6" ry="1.1" fill="#d9a377" stroke="#7d4a28" stroke-width=".6"/><ellipse cx="-0.9" cy="1.4" rx="0.6" ry="1.1" fill="#d9a377" stroke="#7d4a28" stroke-width=".6"/><ellipse cx="0.9" cy="1.4" rx="0.6" ry="1.1" fill="#d9a377" stroke="#7d4a28" stroke-width=".6"/><ellipse cx="0" cy="-0" rx="0.6" ry="1.1" fill="#d9a377" stroke="#7d4a28" stroke-width=".6"/></g><g transform="translate(710,736) rotate(-24.5)"><path d="M54,-19.8 L110,-19.8 L110,19.8 L54,19.8 A6.7,19.8 0 0 1 54,-19.8 Z" fill="url(#gWhite)"/><ellipse cx="54" cy="0" rx="6.7" ry="19.8" fill="#f6f6f6" stroke="#d4d4d4" stroke-width="1"/><ellipse cx="54.8" cy="0.8" rx="4.4" ry="13.1" fill="#b4b4b4"/></g><g transform="translate(710,736) rotate(-24.5)"><path d="M0,-12.2 L55,-12.2 A3.7,12.2 0 0 1 55,12.2 L0,12.2 A3.7,12.2 0 0 1 0,-12.2 Z" fill="url(#gCu)"/><path d="M0,-12.2 L55,-12.2 A3.7,12.2 0 0 1 55,12.2 L0,12.2 A3.7,12.2 0 0 1 0,-12.2 Z" fill="url(#strand)"/><ellipse cx="0" cy="0" rx="3.7" ry="12.2" fill="#b98559"/><ellipse cx="0" cy="0" rx="1.1" ry="2.7" fill="#d9a377" stroke="#7d4a28" stroke-width=".6"/><ellipse cx="0" cy="-6.7" rx="1.1" ry="2.7" fill="#d9a377" stroke="#7d4a28" stroke-width=".6"/><ellipse cx="0" cy="6.7" rx="1.1" ry="2.7" fill="#d9a377" stroke="#7d4a28" stroke-width=".6"/><ellipse cx="-1.6" cy="-3.4" rx="1.1" ry="2.7" fill="#d9a377" stroke="#7d4a28" stroke-width=".6"/><ellipse cx="1.6" cy="-3.4" rx="1.1" ry="2.7" fill="#d9a377" stroke="#7d4a28" stroke-width=".6"/><ellipse cx="-1.6" cy="3.4" rx="1.1" ry="2.7" fill="#d9a377" stroke="#7d4a28" stroke-width=".6"/><ellipse cx="1.6" cy="3.4" rx="1.1" ry="2.7" fill="#d9a377" stroke="#7d4a28" stroke-width=".6"/><ellipse cx="0" cy="-0" rx="1.1" ry="2.7" fill="#d9a377" stroke="#7d4a28" stroke-width=".6"/></g>
<path d="M757,658.8 C760.8,656.5 771.4,649.6 780,645 C788.6,640.4 798.7,635.7 808.7,631 C818.7,626.3 831.3,621.2 840,617 C848.7,612.8 855.2,609.5 861,606 C866.8,602.5 872.7,597.7 875,596 C895,603 912,620 917,643 C918,662 912,676 903,685 L860,702 L806,721.4 L807,709 L803.9,696.4 L797.6,686 L789.3,679.7 L780,671.3 L769.4,664 L757,658.8 Z" fill="url(#gP4)"/><ellipse cx="850" cy="648" rx="26" ry="12" transform="rotate(-25 850 648)" fill="#5a5a5a" fill-opacity="0.7" filter="url(#b4)"/><ellipse cx="790" cy="668" rx="16" ry="9" transform="rotate(-30 790 668)" fill="#ffffff" fill-opacity="0.7" filter="url(#b4)"/><path d="M757,658.8 C760.8,656.5 771.4,649.6 780,645 C788.6,640.4 798.7,635.7 808.7,631 C818.7,626.3 831.3,621.2 840,617 C848.7,612.8 855.2,609.5 861,606 C866.8,602.5 872.7,597.7 875,596 C895,603 912,620 917,643 C918,662 912,676 903,685 L860,702 L806,721.4 L807,709 L803.9,696.4 L797.6,686 L789.3,679.7 L780,671.3 L769.4,664 L757,658.8 Z" fill="url(#gP4s)"/><path d="M760.6,657.2 L761.9,657.7 L763.8,658.5 L766,659.3 L768.4,660.3 L770.7,661.3 L772.8,662.4 L774.6,663.5 L776.4,664.6 L778.2,665.8 L779.9,667.1 L781.5,668.4 L783.2,669.7 L784.8,671.1 L786.3,672.5 L787.8,674 L789.3,675.4 L790.8,676.8 L792.2,678.1 L793.7,679.2 L795.1,680.2 L796.5,681.1 L797.8,682.1 L799.1,683.1 L800.3,684.4 L801.5,685.9 L802.6,687.5 L803.7,689.2 L804.7,691 L805.6,692.9 L806.4,694.8 L807.1,696.8 L807.7,698.9 L808.1,701.1 L808.5,703.3 L808.7,705.6 L808.8,707.7 L808.7,710 L808.4,712.5 L808.1,715 L807.7,717.2 L807.3,719.2 L807,720.6" fill="none" stroke="#d8d8d8" stroke-width="9" stroke-opacity=".55" filter="url(#b2)"/><path d="M757,658.8 L758.4,659.3 L760.3,660.1 L762.5,660.9 L764.9,661.9 L767.3,663 L769.4,664 L771.3,665.1 L773.1,666.2 L774.9,667.4 L776.6,668.7 L778.3,670 L780,671.3 L781.6,672.7 L783.2,674.1 L784.8,675.6 L786.3,677 L787.8,678.4 L789.3,679.7 L790.8,680.8 L792.2,681.8 L793.6,682.7 L795,683.7 L796.3,684.7 L797.6,686 L798.8,687.5 L800,689.1 L801.1,690.8 L802.1,692.6 L803.1,694.5 L803.9,696.4 L804.6,698.4 L805.3,700.4 L805.9,702.6 L806.4,704.7 L806.8,706.9 L807,709 L807.1,711.2 L806.9,713.6 L806.7,716 L806.4,718.2 L806.2,720.1 L806,721.4 L807,720.6 L807.3,719.2 L807.7,717.2 L808.1,715 L808.4,712.5 L808.7,710 L808.8,707.7 L808.7,705.6 L808.5,703.3 L808.1,701.1 L807.7,698.9 L807.1,696.8 L806.4,694.8 L805.6,692.9 L804.7,691 L803.7,689.2 L802.6,687.5 L801.5,685.9 L800.3,684.4 L799.1,683.1 L797.8,682.1 L796.5,681.1 L795.1,680.2 L793.7,679.2 L792.2,678.1 L790.8,676.8 L789.3,675.4 L787.8,674 L786.3,672.5 L784.8,671.1 L783.2,669.7 L781.5,668.4 L779.9,667.1 L778.2,665.8 L776.4,664.6 L774.6,663.5 L772.8,662.4 L770.7,661.3 L768.4,660.3 L766,659.3 L763.8,658.5 L761.9,657.7 L760.6,657.2 Z" fill="url(#gb4)"/><path d="M757,658.8 L758.4,659.3 L760.3,660.1 L762.5,660.9 L764.9,661.9 L767.3,663 L769.4,664 L771.3,665.1 L773.1,666.2 L774.9,667.4 L776.6,668.7 L778.3,670 L780,671.3 L781.6,672.7 L783.2,674.1 L784.8,675.6 L786.3,677 L787.8,678.4 L789.3,679.7 L790.8,680.8 L792.2,681.8 L793.6,682.7 L795,683.7 L796.3,684.7 L797.6,686 L798.8,687.5 L800,689.1 L801.1,690.8 L802.1,692.6 L803.1,694.5 L803.9,696.4 L804.6,698.4 L805.3,700.4 L805.9,702.6 L806.4,704.7 L806.8,706.9 L807,709 L807.1,711.2 L806.9,713.6 L806.7,716 L806.4,718.2 L806.2,720.1 L806,721.4" fill="none" stroke="#ffffff" stroke-width="1.4"/><path d="M796.5,681.1 L797.8,682.1 L799.1,683.1 L800.3,684.4 L801.5,685.9 L802.6,687.5 L803.7,689.2 L804.7,691 L805.6,692.9 L806.4,694.8 L807.1,696.8 L807.7,698.9 L808.1,701.1 L808.5,703.3 L808.7,705.6 L808.8,707.7 L808.7,710 L808.4,712.5 L808.1,715 L807.7,717.2 L807.3,719.2 L807,720.6" fill="none" stroke="#8c8c8c" stroke-width="1" stroke-opacity=".8"/>
<g stroke="#4a4a4a" stroke-width="1.8" fill="none"><path d="M151,880.5 L151,771"/><path d="M413.5,880.5 L413.5,752"/><path d="M732,880.5 L732,752"/><path d="M1013,880.5 L1013,638"/></g><path d="M150.1,771 L318,771" stroke="#1e1e1e" stroke-width="2" fill="none"/><circle cx="318.3" cy="769.5" r="7.4" fill="#141414"/><circle cx="413.5" cy="752.3" r="7.8" fill="#141414"/><circle cx="732.3" cy="752.6" r="7.8" fill="#141414"/><circle cx="1013" cy="638.3" r="8" fill="#141414"/>
<text x="150.5" y="267.5" font-size="62" fill="#1c1c1c" stroke="#fff" stroke-width="1.7" textLength="783" lengthAdjust="spacingAndGlyphs">8-core Twisted Pair Structure</text><text x="45.5" y="320.5" font-size="35.5" fill="#5d5d5d" stroke="#fff" stroke-width=".8" textLength="993" lengthAdjust="spacingAndGlyphs">multi-protection provides less signal losses and higher performance</text><text x="55.5" y="922" font-size="36.5" fill="#555" stroke="#fff" stroke-width=".8" textLength="182" lengthAdjust="spacingAndGlyphs">Ground wire</text><text x="309" y="918.5" font-size="36.5" fill="#555" stroke="#fff" stroke-width=".8" textLength="243" lengthAdjust="spacingAndGlyphs">Double alum-foil</text><text x="606" y="918.5" font-size="36.5" fill="#555" stroke="#fff" stroke-width=".8" textLength="258" lengthAdjust="spacingAndGlyphs">Pure copper core</text><text x="931.5" y="918.5" font-size="36.5" fill="#555" stroke="#fff" stroke-width=".8" textLength="161" lengthAdjust="spacingAndGlyphs">PVC jacket</text>
</svg>
</body></html>
